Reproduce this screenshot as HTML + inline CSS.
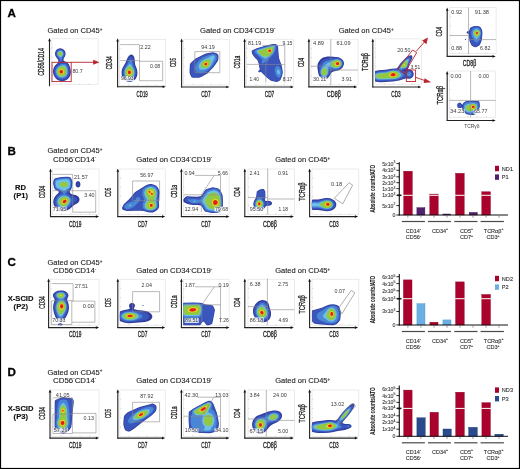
<!DOCTYPE html>
<html><head><meta charset="utf-8"><style>
html,body{margin:0;padding:0;background:#fff;}
body{width:520px;height:469px;overflow:hidden;font-family:"Liberation Sans", sans-serif;}
svg{display:block;will-change:transform;}
</style></head><body>
<svg width="520" height="469" viewBox="0 0 520 469" font-family='"Liberation Sans", sans-serif'>
<rect x="0.5" y="0.5" width="519" height="468" fill="none" stroke="#000" stroke-width="1.2"/>
<text x="7.4" y="16.5" font-size="11.60" text-anchor="start" fill="#000" font-weight="bold" stroke="#000" stroke-width="0.3">A</text>
<text x="7.4" y="155.0" font-size="11.60" text-anchor="start" fill="#000" font-weight="bold" stroke="#000" stroke-width="0.3">B</text>
<text x="7.4" y="265.8" font-size="11.60" text-anchor="start" fill="#000" font-weight="bold" stroke="#000" stroke-width="0.3">C</text>
<text x="7.4" y="375.9" font-size="11.60" text-anchor="start" fill="#000" font-weight="bold" stroke="#000" stroke-width="0.3">D</text>
<text x="47.4" y="33.1" font-size="8.00" text-anchor="start" fill="#222" textLength="55.0" lengthAdjust="spacingAndGlyphs" stroke="#222" stroke-width="0.12">Gated on CD45<tspan font-size="4.8" dy="-2.3">+</tspan></text>
<text x="200.0" y="33.1" font-size="8.00" text-anchor="start" fill="#222" textLength="75.5" lengthAdjust="spacingAndGlyphs" stroke="#222" stroke-width="0.12">Gated on CD34<tspan font-size="4.5" dy="-2.6">-</tspan><tspan dy="2.6">CD19</tspan><tspan font-size="4.5" dy="-2.6">-</tspan></text>
<text x="338.7" y="33.1" font-size="8.00" text-anchor="start" fill="#222" textLength="55.0" lengthAdjust="spacingAndGlyphs" stroke="#222" stroke-width="0.12">Gated on CD45<tspan font-size="4.8" dy="-2.3">+</tspan></text>
<rect x="51.8" y="38.8" width="46.3" height="45.7" fill="none" stroke="#dedede" stroke-width="0.6"/>
<path d="M51.8 75.4h1.2M61.1 84.5v-1.2M51.8 66.2h1.2M70.3 84.5v-1.2M51.8 57.1h1.2M79.6 84.5v-1.2M51.8 47.9h1.2M88.8 84.5v-1.2" stroke="#bbb" stroke-width="0.5" fill="none"/>
<path d="M49.5 86.2V40.5" stroke="#222" stroke-width="1.1" fill="none"/>
<path d="M48.2 41.2L49.5 38.0L50.8 41.2Z" fill="#111"/>
<path fill="#2f3c9c" fill-rule="evenodd" d="M63.0 81.1 61.3 81.1 59.5 80.7 57.8 79.9 56.3 78.9 54.9 77.3 54.0 75.8 53.4 74.3 53.0 72.3 53.1 69.8 53.9 67.3 55.3 65.3 57.8 63.0 58.4 61.8 58.3 60.5 58.0 59.5 56.0 57.0 55.3 55.5 55.0 54.0 55.2 52.3 55.8 50.8 56.9 49.5 58.3 48.7 59.8 48.3 61.3 48.4 62.8 48.9 64.1 49.9 65.0 51.3 65.5 53.0 65.5 54.8 65.0 56.3 63.6 58.8 63.5 60.4 64.1 61.1 67.1 62.4 68.7 64.1 69.9 66.8 70.8 70.8 70.8 72.8 70.5 74.6 69.9 76.3 68.9 77.8 67.8 79.1 66.3 80.1 64.8 80.7Z"/>
<path fill="#3a56bd" fill-rule="evenodd" d="M63.0 79.9 61.3 79.9 59.8 79.6 58.3 78.9 57.0 78.1 55.8 76.8 55.0 75.6 54.4 74.1 54.1 72.6 54.2 70.1 54.9 67.8 56.3 65.8 58.8 63.7 59.2 62.5 59.0 60.5 58.6 59.0 56.8 56.8 56.0 55.3 55.7 54.0 55.9 52.5 56.4 51.3 57.3 50.2 58.5 49.4 59.8 49.1 61.3 49.2 62.5 49.7 63.6 50.5 64.4 51.8 64.8 53.3 64.8 54.8 64.3 56.0 62.9 58.5 62.7 59.8 62.8 61.4 63.3 62.1 66.1 63.0 67.6 64.3 68.2 65.3 68.8 66.8 69.7 70.8 69.8 72.6 69.5 74.1 69.0 75.6 68.3 76.8 67.3 77.9 66.1 78.9 64.6 79.6Z"/>
<path fill="#4a86d6" fill-rule="evenodd" d="M60.8 61.0 60.3 60.3 59.6 58.3 57.3 55.8 56.8 54.0 57.0 52.5 57.7 51.3 58.8 50.4 60.0 50.1 61.5 50.3 62.7 51.0 63.4 52.0 63.8 53.5 63.6 55.3 61.9 58.0 61.3 60.4 61.0 60.9ZM62.3 78.5 60.8 78.4 59.5 78.0 58.3 77.3 57.2 76.3 56.3 75.1 55.8 73.8 55.4 72.3 55.4 70.8 55.7 69.6 56.2 68.3 57.0 67.2 58.0 66.2 61.3 64.0 63.8 63.9 64.8 64.1 65.7 64.6 67.0 66.1 67.6 67.6 68.1 69.6 68.3 72.6 67.8 74.8 66.4 76.8 64.6 78.0Z"/>
<path fill="#6cc0ea" fill-rule="evenodd" d="M60.8 57.2 59.8 57.0 58.5 56.1 57.8 55.0 57.6 54.0 57.7 53.0 58.1 52.0 59.0 51.3 60.0 51.0 61.0 51.1 62.0 51.6 62.8 52.5 63.0 53.5 63.0 54.5 62.5 55.5 61.5 56.7ZM61.0 77.3 59.8 77.0 58.8 76.4 57.3 74.8 56.8 73.8 56.4 72.6 56.5 70.3 57.4 68.3 59.3 66.6 61.8 65.4 63.0 65.2 64.1 65.3 65.5 66.1 66.5 67.8 67.3 70.8 67.1 73.3 66.3 75.2 64.8 76.6 63.0 77.3Z"/>
<path fill="#93c842" fill-rule="evenodd" d="M60.8 56.2 60.0 56.2 59.3 55.8 58.5 55.1 58.2 54.3 58.2 53.3 58.5 52.6 59.0 52.0 59.8 51.7 60.5 51.6 61.3 51.9 62.0 52.5 62.4 53.3 62.4 54.3 62.1 55.0 61.5 55.8ZM61.0 76.6 59.0 75.8 57.7 74.3 57.0 72.3 57.1 70.3 58.0 68.6 59.5 67.3 61.8 66.3 62.8 66.2 63.8 66.3 65.1 67.1 66.0 68.8 66.6 71.3 66.4 73.3 65.6 74.9 64.3 76.0 62.8 76.6Z"/>
<path fill="#f0e01e" fill-rule="evenodd" d="M61.8 74.4 60.8 74.3 59.8 73.9 59.1 73.1 58.8 72.1 58.8 71.1 59.4 70.1 60.3 69.3 61.3 69.1 62.3 69.2 63.0 69.6 63.8 70.5 64.0 71.6 63.9 72.6 63.5 73.3 62.8 74.0Z"/>
<path fill="#f4a81c" fill-rule="evenodd" d="M61.5 73.9 60.5 73.8 59.8 73.3 59.3 72.6 59.2 71.8 59.3 71.0 59.8 70.2 60.5 69.7 61.3 69.6 62.0 69.7 62.8 70.1 63.3 70.8 63.5 71.6 63.4 72.3 63.0 73.1 62.3 73.7Z"/>
<path fill="#e2201b" fill-rule="evenodd" d="M62.0 73.3 60.8 73.4 60.1 73.1 59.7 72.6 59.6 71.3 60.0 70.6 60.5 70.2 61.8 70.1 62.5 70.5 62.9 71.1 62.9 72.3 62.5 73.0Z"/>
<rect x="52.0" y="62.3" width="19.2" height="19.3" fill="none" stroke="#b8242f" stroke-width="0.9"/>
<path d="M71.2 62.3H94" stroke="#b8242f" stroke-width="0.9"/>
<path d="M93.2 59.8L99.4 62.3L93.2 64.8Z" fill="#b8242f"/>
<rect x="72.0" y="68.9" width="11.1" height="4.9" fill="#fff" fill-opacity="0.82"/>
<text x="72.4" y="73.0" font-size="5.30" text-anchor="start" fill="#3a3a3a" textLength="10.3" lengthAdjust="spacingAndGlyphs">80.7</text>
<text transform="translate(44.4 61.9) rotate(-90)" x="0" y="0" font-size="8.40" text-anchor="middle" fill="#222" textLength="27.7" lengthAdjust="spacingAndGlyphs" stroke="#222" stroke-width="0.3">CD56/CD14</text>
<rect x="119.4" y="39.3" width="46.3" height="46.2" fill="none" stroke="#dedede" stroke-width="0.6"/>
<path d="M119.4 76.3h1.2M128.7 85.5v-1.2M119.4 67.0h1.2M137.9 85.5v-1.2M119.4 57.8h1.2M147.2 85.5v-1.2M119.4 48.5h1.2M156.4 85.5v-1.2" stroke="#bbb" stroke-width="0.5" fill="none"/>
<path d="M117.6 87.2V40.7" stroke="#222" stroke-width="1.1" fill="none"/>
<path d="M116.3 41.4L117.6 38.2L118.9 41.4Z" fill="#111"/>
<path d="M117.1 86.8H163.3" stroke="#222" stroke-width="1.1" fill="none"/>
<path d="M162.6 85.5L165.8 86.8L162.6 88.1Z" fill="#111"/>
<path fill="#2f3c9c" fill-rule="evenodd" d="M128.9 81.8 127.2 81.5 125.7 80.8 124.2 79.8 123.2 78.6 122.3 77.1 121.8 75.3 121.6 73.6 121.6 71.6 122.0 69.6 122.5 68.1 125.4 63.1 127.0 59.0 127.9 57.3 128.6 56.2 129.6 55.2 130.6 54.7 131.6 54.6 132.4 54.8 133.1 55.4 133.8 56.3 134.3 57.5 134.7 59.5 135.1 64.6 136.8 68.8 137.2 70.6 137.4 72.6 137.4 74.3 137.0 76.1 136.4 77.6 135.7 78.8 134.6 79.9 133.4 80.8 131.9 81.5 130.4 81.8Z"/>
<path fill="#3a56bd" fill-rule="evenodd" d="M128.9 80.8 127.4 80.4 126.2 79.9 124.9 79.0 123.9 77.8 123.3 76.6 122.8 75.1 122.5 73.3 122.6 71.6 122.9 69.8 123.5 68.3 126.1 63.8 128.3 58.8 129.1 57.6 129.9 56.9 130.6 56.5 131.4 56.5 132.1 56.8 132.6 57.3 133.5 59.0 134.1 64.6 136.1 70.1 136.4 72.1 136.4 73.8 136.1 75.6 135.6 76.8 134.9 78.1 134.0 79.1 132.9 79.9 131.6 80.4 130.4 80.7Z"/>
<path fill="#4a86d6" fill-rule="evenodd" d="M129.1 79.3 127.9 79.1 126.9 78.7 125.9 78.0 125.1 77.1 124.5 76.1 124.0 74.6 123.8 71.8 124.1 70.3 124.8 68.6 127.3 64.6 129.1 61.0 129.9 60.0 130.9 59.7 131.5 60.0 132.0 61.0 132.8 65.3 134.9 70.3 135.2 71.8 135.2 73.3 134.6 75.8 133.2 77.8 131.4 79.0 130.4 79.3Z"/>
<path fill="#6cc0ea" fill-rule="evenodd" d="M129.1 78.3 127.4 77.7 125.8 76.3 124.9 74.3 124.7 72.1 125.1 70.1 126.1 68.1 128.9 64.8 129.6 64.1 130.1 64.0 130.9 64.6 133.6 69.3 134.1 71.1 134.3 73.1 133.7 75.3 132.6 76.9 131.1 77.9 130.1 78.2Z"/>
<path fill="#93c842" fill-rule="evenodd" d="M129.4 77.5 127.9 77.2 126.4 76.0 125.5 74.3 125.2 72.3 125.6 70.3 126.7 68.4 128.4 66.7 129.1 66.2 129.9 66.1 131.1 66.9 132.7 69.1 133.5 71.1 133.7 72.8 133.3 74.6 132.4 76.1 131.1 77.1Z"/>
<path fill="#f0e01e" fill-rule="evenodd" d="M129.6 75.1 128.6 75.0 127.9 74.5 127.2 73.6 127.0 72.6 127.2 71.6 127.7 70.6 128.4 69.9 129.4 69.6 130.1 69.7 130.9 70.3 131.5 71.3 131.7 72.3 131.6 73.3 131.1 74.3 130.4 74.9Z"/>
<path fill="#f4a81c" fill-rule="evenodd" d="M129.4 74.6 128.6 74.5 128.1 74.1 127.6 73.3 127.5 72.6 127.6 71.6 128.1 70.8 128.6 70.4 129.4 70.2 130.1 70.4 130.7 70.8 131.1 71.6 131.3 72.6 131.1 73.3 130.7 74.1 130.1 74.5Z"/>
<path fill="#e2201b" fill-rule="evenodd" d="M129.4 74.2 128.4 73.8 128.0 73.3 127.8 72.6 128.2 71.3 128.6 70.8 129.4 70.6 130.0 70.8 130.6 71.3 130.9 72.6 130.7 73.3 130.4 73.8Z"/>
<path d="M120.2 44.6H139.5V80.7M120.2 60.6H139.5M139.5 61.3H162.7V80.7H139.5" stroke="#8a8a8a" stroke-width="0.60" fill="none"/>
<text x="140.3" y="48.7" font-size="5.30" text-anchor="start" fill="#3a3a3a" textLength="10.4" lengthAdjust="spacingAndGlyphs">2.22</text>
<text x="150.0" y="67.6" font-size="5.30" text-anchor="start" fill="#3a3a3a" textLength="10.3" lengthAdjust="spacingAndGlyphs">0.08</text>
<rect x="120.5" y="76.1" width="13.5" height="4.9" fill="#fff" fill-opacity="0.82"/>
<text x="120.9" y="80.2" font-size="5.30" text-anchor="start" fill="#3a3a3a" textLength="12.7" lengthAdjust="spacingAndGlyphs">96.93</text>
<text transform="translate(112.3 62.7) rotate(-90)" x="0" y="0" font-size="8.40" text-anchor="middle" fill="#222" textLength="13.5" lengthAdjust="spacingAndGlyphs" stroke="#222" stroke-width="0.3">CD34</text>
<text x="142.2" y="96.5" font-size="8.40" text-anchor="middle" fill="#222" textLength="11.2" lengthAdjust="spacingAndGlyphs" stroke="#222" stroke-width="0.3">CD19</text>
<rect x="183.7" y="39.2" width="45.8" height="45.8" fill="none" stroke="#dedede" stroke-width="0.6"/>
<path d="M183.7 75.8h1.2M192.9 85.0v-1.2M183.7 66.7h1.2M202.0 85.0v-1.2M183.7 57.5h1.2M211.2 85.0v-1.2M183.7 48.4h1.2M220.3 85.0v-1.2" stroke="#bbb" stroke-width="0.5" fill="none"/>
<path d="M181.6 87.4V41.0" stroke="#222" stroke-width="1.1" fill="none"/>
<path d="M180.3 41.7L181.6 38.5L182.9 41.7Z" fill="#111"/>
<path d="M181.1 87.0H227.0" stroke="#222" stroke-width="1.1" fill="none"/>
<path d="M226.3 85.7L229.5 87.0L226.3 88.3Z" fill="#111"/>
<path fill="#2f3c9c" fill-rule="evenodd" d="M191.4 77.0 190.4 74.9 189.6 72.7 189.6 69.7 189.9 64.7 190.2 63.7 190.7 63.0 193.9 60.0 195.7 58.5 203.7 54.4 205.9 53.6 211.2 52.5 212.9 52.3 215.7 53.0 216.9 53.6 217.7 54.3 218.3 55.5 218.5 57.0 218.3 59.5 217.8 61.0 215.8 64.0 213.6 66.9 207.6 73.2 202.2 76.6 199.9 77.6 198.4 77.8 193.2 77.8 192.2 77.6Z"/>
<path fill="#3a56bd" fill-rule="evenodd" d="M191.9 76.5 190.9 74.4 190.3 72.4 190.3 69.7 190.6 64.9 190.8 64.2 191.2 63.5 194.4 60.4 197.2 58.4 203.7 55.1 205.9 54.2 211.4 53.1 212.9 52.9 215.4 53.6 217.2 54.7 217.7 55.7 217.8 57.2 217.6 59.5 217.2 60.7 213.2 66.4 207.2 72.7 201.9 76.0 199.7 77.0 193.4 77.1 192.7 76.9Z"/>
<path fill="#4a86d6" fill-rule="evenodd" d="M195.9 71.0 195.3 69.9 195.0 68.4 195.1 66.9 195.6 65.4 196.4 63.7 197.6 62.0 199.0 60.5 200.7 59.0 202.7 57.7 205.1 56.5 211.7 54.2 212.9 54.0 214.2 54.2 215.4 54.7 216.3 55.5 216.7 56.5 216.6 57.7 216.4 59.2 215.7 60.6 213.6 64.0 212.0 66.2 209.9 68.4 207.7 70.3 206.2 71.3 204.7 72.0 202.9 72.6 201.2 72.8 199.7 72.8 198.2 72.5 196.9 71.9Z"/>
<path fill="#6cc0ea" fill-rule="evenodd" d="M199.3 68.7 198.8 67.9 198.6 67.2 198.9 65.2 200.0 63.0 202.1 60.7 204.2 59.4 208.7 57.6 211.9 55.8 213.4 55.6 214.4 56.2 214.7 57.2 214.4 58.5 213.1 60.7 211.3 64.7 210.2 66.2 208.9 67.4 206.4 68.9 203.2 69.8 200.9 69.7 199.9 69.3Z"/>
<path fill="#93c842" fill-rule="evenodd" d="M200.9 67.3 200.5 65.9 200.8 64.4 201.7 62.7 203.0 61.2 204.4 60.3 206.4 59.7 209.4 59.5 210.4 59.9 210.7 61.5 210.4 64.0 209.7 65.4 208.4 66.8 206.7 67.8 204.2 68.3 202.2 68.1Z"/>
<path fill="#f0e01e" fill-rule="evenodd" d="M206.4 66.0 205.4 66.1 204.7 65.9 204.1 65.4 203.7 64.7 203.6 64.0 203.9 63.2 204.4 62.6 205.2 62.2 206.2 62.1 206.9 62.2 207.6 62.7 208.0 63.5 208.0 64.2 207.8 64.9 207.2 65.6Z"/>
<path fill="#f4a81c" fill-rule="evenodd" d="M205.2 65.6 204.5 65.2 204.2 64.7 204.1 64.2 204.2 63.5 204.7 62.9 205.4 62.5 206.2 62.4 206.9 62.7 207.4 63.2 207.6 63.7 207.4 64.7 206.4 65.6Z"/>
<path fill="#e2201b" fill-rule="evenodd" d="M206.7 65.1 205.7 65.4 204.7 64.9 204.4 64.0 204.8 63.2 205.9 62.7 206.9 63.1 207.3 63.7 207.3 64.2Z"/>
<path d="M194.8 51.6H219.8V72.7H194.8Z" stroke="#8a8a8a" stroke-width="0.60" fill="none"/>
<text x="201.3" y="48.9" font-size="5.30" text-anchor="start" fill="#3a3a3a" textLength="13.4" lengthAdjust="spacingAndGlyphs">94.19</text>
<text transform="translate(175.6 62.4) rotate(-90)" x="0" y="0" font-size="8.40" text-anchor="middle" fill="#222" textLength="9.0" lengthAdjust="spacingAndGlyphs" stroke="#222" stroke-width="0.3">CD5</text>
<text x="205.9" y="96.7" font-size="8.40" text-anchor="middle" fill="#222" textLength="9.5" lengthAdjust="spacingAndGlyphs" stroke="#222" stroke-width="0.3">CD7</text>
<rect x="246.6" y="39.2" width="46.9" height="46.0" fill="none" stroke="#dedede" stroke-width="0.6"/>
<path d="M246.6 76.0h1.2M256.0 85.2v-1.2M246.6 66.8h1.2M265.4 85.2v-1.2M246.6 57.6h1.2M274.7 85.2v-1.2M246.6 48.4h1.2M284.1 85.2v-1.2" stroke="#bbb" stroke-width="0.5" fill="none"/>
<path d="M244.6 87.4V41.0" stroke="#222" stroke-width="1.1" fill="none"/>
<path d="M243.3 41.7L244.6 38.5L245.9 41.7Z" fill="#111"/>
<path d="M244.1 87.0H291.3" stroke="#222" stroke-width="1.1" fill="none"/>
<path d="M290.6 85.7L293.8 87.0L290.6 88.3Z" fill="#111"/>
<path fill="#2f3c9c" fill-rule="evenodd" d="M279.9 80.4 278.1 81.6 276.6 82.0 271.1 80.7 269.6 79.8 265.9 76.7 261.1 71.9 260.6 71.8 259.9 72.3 259.4 72.4 258.6 72.0 258.3 71.4 258.4 70.9 258.7 70.4 259.6 69.9 259.7 69.4 258.9 64.6 258.1 61.8 257.3 60.0 254.5 57.2 252.2 54.0 251.7 51.7 251.8 51.0 252.1 50.4 252.9 49.9 256.9 48.3 264.6 46.1 272.9 44.1 274.4 43.9 275.4 44.0 276.1 44.3 277.2 45.2 277.9 46.2 278.1 47.2 278.7 55.2 279.0 58.2 281.8 65.7 282.7 71.4 282.7 72.9 282.0 76.2 280.7 79.4Z"/>
<path fill="#3a56bd" fill-rule="evenodd" d="M279.6 80.1 277.9 81.1 276.6 81.5 271.1 80.1 269.9 79.3 266.2 76.2 260.6 70.7 259.2 63.7 258.2 60.5 257.4 59.2 254.9 56.9 252.8 54.0 252.4 53.0 252.2 51.7 252.3 51.2 252.6 50.7 255.4 49.3 257.4 48.6 264.4 46.6 272.6 44.6 275.1 44.4 275.9 44.7 276.8 45.5 277.3 46.2 277.6 47.2 278.5 58.2 281.2 65.7 282.3 71.4 282.2 73.2 281.5 75.9 280.2 79.2ZM259.1 71.9 258.7 71.4 258.9 70.9 259.4 70.6 260.2 70.7 260.3 71.2 260.0 71.7 259.6 72.0Z"/>
<path fill="#4a86d6" fill-rule="evenodd" d="M262.4 63.2 262.1 63.0 261.8 62.2 262.1 59.7 261.9 59.0 255.4 53.0 254.7 51.7 254.7 51.2 255.0 50.7 255.8 50.0 257.1 49.4 265.6 46.9 273.1 45.2 274.6 45.1 275.5 45.5 276.1 46.5 276.0 48.0 274.7 51.7 272.8 55.0 271.6 56.3 269.1 58.2 266.6 61.1 265.4 62.3 263.6 63.3 262.9 63.4ZM279.1 77.8 278.6 77.7 277.9 77.3 276.6 75.9 275.5 73.9 275.0 71.9 274.8 69.9 275.2 67.9 275.9 66.7 277.1 66.1 277.9 66.1 278.6 66.3 279.9 67.4 280.8 69.2 281.4 71.3 281.4 72.9 280.9 75.2 280.1 76.9 279.6 77.5Z"/>
<path fill="#6cc0ea" fill-rule="evenodd" d="M256.6 51.7 256.5 51.2 256.7 50.7 257.7 50.0 268.0 47.0 273.1 45.9 274.1 46.1 274.5 46.7 273.9 50.7 272.8 53.0 270.6 55.3 265.9 58.5 264.9 58.4 261.6 56.6 257.7 53.2ZM279.1 74.5 278.6 74.4 277.9 73.9 277.1 72.4 277.0 71.4 277.1 70.4 277.4 69.9 277.9 69.5 278.4 69.5 279.1 70.1 279.9 71.7 279.9 73.4 279.6 74.2Z"/>
<path fill="#93c842" fill-rule="evenodd" d="M258.0 51.7 258.2 51.0 259.1 50.5 264.6 48.8 268.6 47.4 272.1 46.8 273.0 47.0 273.4 47.5 273.5 50.2 273.2 51.2 272.5 52.5 271.6 53.5 270.1 54.8 267.9 56.2 266.4 56.8 264.6 56.7 262.4 55.9 258.9 53.0Z"/>
<path fill="#f0e01e" fill-rule="evenodd" d="M268.1 52.4 267.6 52.0 267.3 51.2 267.4 50.5 268.0 49.7 268.9 49.1 269.9 48.9 270.9 49.1 271.5 49.5 271.8 50.0 271.8 50.7 271.6 51.5 271.1 52.0 270.4 52.5 269.6 52.8 268.9 52.7Z"/>
<path fill="#f4a81c" fill-rule="evenodd" d="M269.4 52.4 268.6 52.2 268.0 51.7 267.8 51.2 267.9 50.5 268.4 49.9 269.1 49.4 269.9 49.3 270.7 49.5 271.4 50.2 271.3 51.2 270.6 52.0Z"/>
<path fill="#e2201b" fill-rule="evenodd" d="M270.4 51.8 269.4 52.1 268.5 51.7 268.2 51.0 268.5 50.2 269.6 49.6 270.4 49.6 270.9 49.9 271.1 50.5 271.1 51.0Z"/>
<path d="M246.8 64.4H284.8M265.8 64.4V82.5M265.8 64.4L275.2 45.4M262.6 45.4H284.8V82.5" stroke="#8a8a8a" stroke-width="0.60" fill="none"/>
<text x="248.0" y="45.4" font-size="5.30" text-anchor="start" fill="#3a3a3a" textLength="13.2" lengthAdjust="spacingAndGlyphs">81.19</text>
<text x="282.4" y="45.4" font-size="5.30" text-anchor="start" fill="#3a3a3a" textLength="10.0" lengthAdjust="spacingAndGlyphs">9.15</text>
<text x="249.4" y="80.8" font-size="5.30" text-anchor="start" fill="#3a3a3a" textLength="9.6" lengthAdjust="spacingAndGlyphs">1.40</text>
<text x="282.7" y="80.8" font-size="5.30" text-anchor="start" fill="#3a3a3a" textLength="9.7" lengthAdjust="spacingAndGlyphs">8.17</text>
<text transform="translate(240.4 62.0) rotate(-90)" x="0" y="0" font-size="8.40" text-anchor="middle" fill="#222" textLength="12.8" lengthAdjust="spacingAndGlyphs" stroke="#222" stroke-width="0.3">CD1a</text>
<text x="269.5" y="96.7" font-size="8.40" text-anchor="middle" fill="#222" textLength="9.5" lengthAdjust="spacingAndGlyphs" stroke="#222" stroke-width="0.3">CD7</text>
<rect x="311.0" y="39.2" width="47.0" height="45.8" fill="none" stroke="#dedede" stroke-width="0.6"/>
<path d="M311.0 75.8h1.2M320.4 85.0v-1.2M311.0 66.7h1.2M329.8 85.0v-1.2M311.0 57.5h1.2M339.2 85.0v-1.2M311.0 48.4h1.2M348.6 85.0v-1.2" stroke="#bbb" stroke-width="0.5" fill="none"/>
<path d="M308.9 87.3V41.0" stroke="#222" stroke-width="1.1" fill="none"/>
<path d="M307.6 41.7L308.9 38.5L310.2 41.7Z" fill="#111"/>
<path d="M308.4 86.9H354.7" stroke="#222" stroke-width="1.1" fill="none"/>
<path d="M354.0 85.6L357.2 86.9L354.0 88.2Z" fill="#111"/>
<path fill="#2f3c9c" fill-rule="evenodd" d="M320.1 77.2 319.1 75.7 318.3 73.4 317.5 68.2 317.4 65.9 317.7 64.0 318.5 62.0 319.8 60.2 321.2 58.8 323.2 57.6 325.2 56.9 327.5 56.5 330.2 56.5 336.0 56.9 338.5 57.3 341.0 58.4 342.7 60.0 343.4 61.0 343.8 62.2 344.0 63.5 343.8 64.7 342.9 66.9 342.1 67.9 341.0 69.0 339.8 69.8 338.0 70.6 333.5 71.6 332.1 72.2 331.2 73.0 328.8 77.0 327.5 78.2 326.2 78.9 324.5 79.2 323.0 79.0 321.5 78.4Z"/>
<path fill="#3a56bd" fill-rule="evenodd" d="M320.6 76.4 319.6 74.7 319.0 72.7 318.9 70.2 319.2 66.2 319.6 64.2 320.3 62.7 321.3 61.5 322.6 60.2 324.5 59.1 327.0 58.3 336.0 57.8 338.0 58.0 339.8 58.6 341.0 59.3 342.1 60.5 343.1 62.5 343.1 64.4 342.7 65.7 342.2 66.7 340.5 68.4 339.0 69.3 337.5 69.8 335.8 70.1 332.5 70.4 331.2 70.8 330.4 71.7 329.2 74.7 328.3 76.2 327.2 77.3 326.0 78.0 324.5 78.3 323.0 78.1 321.8 77.5Z"/>
<path fill="#4a86d6" fill-rule="evenodd" d="M321.2 75.6 320.6 74.4 320.1 72.9 320.1 71.4 320.3 69.7 322.4 64.4 323.2 63.2 324.5 62.0 325.8 61.2 327.2 60.7 336.0 58.9 337.8 59.0 339.2 59.4 340.5 60.1 341.4 61.0 342.2 62.7 342.1 64.4 341.4 66.2 340.0 67.6 338.5 68.4 336.5 68.9 334.8 69.0 331.2 68.5 330.0 68.8 329.5 69.3 329.2 69.9 328.6 72.9 328.0 74.7 327.0 76.0 325.8 76.9 324.5 77.2 323.2 77.0 322.2 76.5Z"/>
<path fill="#6cc0ea" fill-rule="evenodd" d="M321.8 74.9 321.1 73.7 320.9 72.4 320.9 71.2 321.4 69.7 322.5 67.9 326.5 63.7 333.2 60.5 335.8 59.7 337.2 59.6 338.8 59.9 340.0 60.5 341.0 61.5 341.5 62.7 341.6 64.2 340.9 65.7 339.8 66.9 337.8 67.9 335.5 68.2 333.5 67.8 330.0 66.6 328.6 66.7 328.0 67.2 327.7 67.7 327.8 72.4 327.4 73.9 326.8 75.1 325.5 76.0 324.2 76.3 323.0 76.0Z"/>
<path fill="#93c842" fill-rule="evenodd" d="M341.2 64.0 340.6 65.4 339.5 66.6 338.0 67.3 336.2 67.6 334.5 67.5 332.7 66.7 331.3 65.4 330.8 64.2 331.3 63.0 332.9 61.5 334.8 60.5 337.0 60.1 338.8 60.3 340.2 61.2 341.0 62.5ZM324.0 75.6 322.9 75.2 322.0 74.2 321.5 72.9 321.5 71.4 321.9 70.2 322.8 68.9 324.0 68.1 325.0 67.9 326.0 68.4 326.7 69.4 327.2 70.9 327.2 72.4 326.8 73.9 326.0 74.9 325.0 75.5Z"/>
<path fill="#f0e01e" fill-rule="evenodd" d="M338.8 65.4 337.2 65.9 336.2 65.8 335.5 65.5 334.8 64.9 334.6 64.4 334.5 64.0 334.7 63.2 335.5 62.3 336.5 61.7 337.8 61.5 338.8 61.8 339.5 62.5 339.9 63.5 339.6 64.4Z"/>
<path fill="#f4a81c" fill-rule="evenodd" d="M339.2 64.4 338.2 65.2 336.8 65.4 336.0 65.1 335.5 64.7 335.2 63.7 335.5 63.0 336.2 62.3 337.0 62.0 338.0 61.9 338.8 62.2 339.4 63.0 339.5 63.7Z"/>
<path fill="#e2201b" fill-rule="evenodd" d="M338.2 64.9 337.0 65.1 336.0 64.5 335.8 63.7 336.3 62.7 337.0 62.3 337.8 62.2 338.5 62.4 338.9 62.7 339.1 63.2 339.1 64.0 338.8 64.4Z"/>
<path d="M330.8 39.2V85M311 66.2H330.8M330.8 70H358" stroke="#8a8a8a" stroke-width="0.60" fill="none"/>
<text x="313.0" y="44.7" font-size="5.30" text-anchor="start" fill="#3a3a3a" textLength="11.0" lengthAdjust="spacingAndGlyphs">4.89</text>
<text x="336.6" y="44.7" font-size="5.30" text-anchor="start" fill="#3a3a3a" textLength="13.9" lengthAdjust="spacingAndGlyphs">61.09</text>
<rect x="312.6" y="76.7" width="14.0" height="4.9" fill="#fff" fill-opacity="0.82"/>
<text x="313.0" y="80.8" font-size="5.30" text-anchor="start" fill="#3a3a3a" textLength="13.2" lengthAdjust="spacingAndGlyphs">30.11</text>
<text x="341.5" y="80.8" font-size="5.30" text-anchor="start" fill="#3a3a3a" textLength="10.4" lengthAdjust="spacingAndGlyphs">3.91</text>
<text transform="translate(304.0 62.4) rotate(-90)" x="0" y="0" font-size="8.40" text-anchor="middle" fill="#222" textLength="9.0" lengthAdjust="spacingAndGlyphs" stroke="#222" stroke-width="0.3">CD4</text>
<text x="333.8" y="97.0" font-size="8.40" text-anchor="middle" fill="#222" textLength="13.9" lengthAdjust="spacingAndGlyphs" stroke="#222" stroke-width="0.3">CD8&#946;</text>
<rect x="375.1" y="38.9" width="46.2" height="45.3" fill="none" stroke="#dedede" stroke-width="0.6"/>
<path d="M375.1 75.1h1.2M384.3 84.2v-1.2M375.1 66.1h1.2M393.6 84.2v-1.2M375.1 57.0h1.2M402.8 84.2v-1.2M375.1 48.0h1.2M412.1 84.2v-1.2" stroke="#bbb" stroke-width="0.5" fill="none"/>
<path d="M372.8 87.4V41.0" stroke="#222" stroke-width="1.1" fill="none"/>
<path d="M371.5 41.7L372.8 38.5L374.1 41.7Z" fill="#111"/>
<path d="M372.3 87.0H418.8" stroke="#222" stroke-width="1.1" fill="none"/>
<path d="M418.1 85.7L421.3 87.0L418.1 88.3Z" fill="#111"/>
<path fill="#2f3c9c" fill-rule="evenodd" d="M375.1 81.5 374.9 76.2 375.1 70.9 378.6 70.2 385.6 69.7 391.6 68.7 395.6 68.6 396.6 68.4 397.6 67.5 400.0 63.9 401.4 62.2 405.6 58.1 407.9 56.5 409.6 55.6 411.1 55.3 412.1 55.7 412.4 56.7 412.2 58.2 411.3 60.4 409.2 63.9 408.7 66.7 408.0 68.9 408.4 69.2 410.1 69.5 411.4 69.9 412.5 70.9 413.3 72.2 413.7 73.7 413.5 75.4 412.7 76.9 411.6 78.0 410.6 78.5 409.6 78.7 405.6 78.6 399.1 80.5 393.1 81.5 380.9 82.2 377.9 82.0Z"/>
<path fill="#3a56bd" fill-rule="evenodd" d="M375.1 80.5 374.9 76.2 375.1 71.9 378.4 71.1 386.1 70.5 391.9 69.3 395.9 69.3 396.9 69.1 397.9 68.4 400.2 64.4 401.5 62.7 404.9 59.4 406.9 57.8 408.9 56.8 410.4 56.5 411.1 56.9 411.3 57.9 411.1 59.2 410.4 60.7 408.8 63.7 408.2 66.4 407.7 67.7 407.1 68.4 406.4 68.9 403.4 69.9 403.0 70.7 403.6 71.3 404.9 71.6 405.9 71.5 407.9 70.5 408.9 70.3 410.1 70.4 411.4 71.0 412.4 72.4 412.8 74.2 412.3 75.9 411.1 77.2 410.1 77.7 409.1 77.8 406.4 77.4 405.4 77.4 398.6 79.7 395.9 80.4 392.9 80.8 380.6 81.4 377.6 81.1Z"/>
<path fill="#4a86d6" fill-rule="evenodd" d="M375.1 79.1 375.1 73.4 376.6 72.7 378.4 72.3 386.1 71.6 391.9 70.2 393.6 70.0 396.9 70.3 398.1 70.1 398.8 69.4 399.7 66.9 400.7 64.9 402.9 62.1 405.1 60.1 407.1 58.7 408.6 58.1 409.2 58.2 409.6 58.4 409.8 59.2 409.6 60.2 408.1 63.4 407.5 66.2 407.1 67.2 406.4 67.9 405.6 68.3 403.1 68.8 401.8 69.4 400.7 70.2 400.4 70.7 400.4 71.2 400.9 71.8 403.0 73.4 403.8 74.4 403.8 74.9 403.4 75.7 401.6 77.2 399.4 78.2 397.1 79.0 394.9 79.5 392.6 79.8 380.4 80.2 377.4 79.9ZM409.1 76.4 408.1 76.2 407.3 75.7 406.7 74.9 406.5 74.2 406.9 73.2 407.6 72.4 408.6 71.8 409.6 71.7 410.4 72.0 411.1 72.7 411.4 73.4 411.4 74.4 411.2 75.2 410.6 75.9 409.9 76.3Z"/>
<path fill="#6cc0ea" fill-rule="evenodd" d="M400.6 68.2 400.5 67.4 400.8 65.9 401.6 64.4 402.6 63.1 404.1 61.6 406.1 60.1 407.4 59.5 408.4 59.5 408.6 60.2 408.5 60.9 407.5 63.4 406.9 66.2 406.4 67.1 405.6 67.7 404.6 68.0 401.4 68.5ZM375.1 77.4 375.1 75.1 376.1 74.2 377.4 73.5 379.9 73.0 386.4 72.4 390.6 71.1 392.4 70.7 394.9 70.7 398.1 71.4 398.9 71.9 400.8 73.9 401.1 74.7 401.1 75.2 400.7 75.9 398.9 77.4 396.4 78.5 393.6 79.0 379.9 79.3 376.9 78.7 375.9 78.1ZM409.6 74.4 409.0 74.4 408.8 73.9 409.0 73.7 409.6 73.7 409.7 74.2Z"/>
<path fill="#93c842" fill-rule="evenodd" d="M401.4 67.4 401.2 66.7 401.4 65.7 402.0 64.4 403.0 63.2 405.9 60.9 406.9 60.5 407.6 60.6 407.7 61.4 406.7 65.7 406.1 66.8 405.4 67.3 404.1 67.6 402.1 67.7ZM399.8 74.7 399.4 75.9 397.9 77.2 395.6 78.2 393.1 78.6 379.6 78.6 378.1 78.2 377.1 77.8 376.3 77.2 376.0 76.4 376.1 75.7 376.6 75.0 378.4 74.0 380.4 73.6 386.1 73.1 390.9 71.4 392.9 71.0 395.4 71.2 397.5 71.9 399.0 73.2Z"/>
<path fill="#f0e01e" fill-rule="evenodd" d="M403.9 65.7 403.6 65.2 403.8 64.7 404.4 64.2 404.9 64.2 405.1 64.7 404.9 65.4 404.4 65.7ZM396.7 74.7 396.5 75.4 395.8 76.2 394.6 76.8 393.4 77.0 391.9 77.0 390.6 76.7 389.6 76.2 389.1 75.4 389.4 74.4 390.4 73.4 391.6 72.7 392.9 72.4 394.1 72.5 395.4 72.9 396.3 73.7Z"/>
<path fill="#f4a81c" fill-rule="evenodd" d="M396.1 74.7 395.8 75.4 395.3 75.9 394.4 76.4 393.4 76.6 392.1 76.5 391.1 76.2 390.4 75.8 390.0 75.2 390.2 74.4 390.8 73.7 391.9 73.1 393.1 72.8 394.1 72.9 395.1 73.2 395.8 73.9Z"/>
<path fill="#e2201b" fill-rule="evenodd" d="M395.5 74.7 395.4 75.2 394.9 75.7 394.1 76.1 393.1 76.2 391.4 75.9 390.8 75.4 390.7 74.9 391.0 74.2 391.5 73.7 393.1 73.1 394.1 73.2 394.9 73.5 395.4 74.0Z"/>
<path d="M398 69L412.6 50L416.7 52.6L404.2 73.8Z" fill="none" stroke="#b8242f" stroke-width="0.9"/>
<path d="M416 51.5L425.2 41.2" stroke="#b8242f" stroke-width="0.9"/>
<path d="M422.1 40.6L428 37.6L426.4 44.3Z" fill="#b8242f"/>
<rect x="406.3" y="70.0" width="9.3" height="11.5" fill="none" stroke="#b8242f" stroke-width="0.9"/>
<path d="M415.6 77.3L425.5 80.8" stroke="#b8242f" stroke-width="0.9"/>
<path d="M424.6 78.3L431.2 82.3L423.6 83.0Z" fill="#b8242f"/>
<text x="397.3" y="52.3" font-size="5.30" text-anchor="start" fill="#3a3a3a" textLength="13.2" lengthAdjust="spacingAndGlyphs">20.50</text>
<text x="410.5" y="69.0" font-size="5.30" text-anchor="start" fill="#3a3a3a" textLength="9.7" lengthAdjust="spacingAndGlyphs">3.51</text>
<text transform="translate(368.2 62.0) rotate(-90)" x="0" y="0" font-size="8.40" text-anchor="middle" fill="#222" textLength="18.0" lengthAdjust="spacingAndGlyphs" stroke="#222" stroke-width="0.3">TCR&#945;&#946;</text>
<text x="396.0" y="96.7" font-size="8.40" text-anchor="middle" fill="#222" textLength="9.5" lengthAdjust="spacingAndGlyphs" stroke="#222" stroke-width="0.3">CD3</text>
<rect x="449.9" y="7.6" width="46.2" height="46.1" fill="none" stroke="#dedede" stroke-width="0.6"/>
<path d="M449.9 44.5h1.2M459.1 53.7v-1.2M449.9 35.3h1.2M468.4 53.7v-1.2M449.9 26.0h1.2M477.6 53.7v-1.2M449.9 16.8h1.2M486.9 53.7v-1.2" stroke="#bbb" stroke-width="0.5" fill="none"/>
<path d="M447.2 56.8V10.0" stroke="#222" stroke-width="1.1" fill="none"/>
<path d="M445.9 10.7L447.2 7.5L448.5 10.7Z" fill="#111"/>
<path d="M446.7 56.4H493.2" stroke="#222" stroke-width="1.1" fill="none"/>
<path d="M492.5 55.1L495.7 56.4L492.5 57.7Z" fill="#111"/>
<path fill="#2f3c9c" fill-rule="evenodd" d="M475.4 47.3 474.4 47.1 472.6 46.2 471.7 45.6 471.2 44.8 469.5 41.1 468.9 34.3 468.5 33.8 467.1 33.5 466.6 32.6 466.7 32.1 467.1 31.5 467.6 31.3 468.6 31.3 469.1 30.9 469.9 28.4 470.6 27.4 473.6 26.2 475.6 25.9 478.9 26.3 479.9 26.8 480.7 27.6 481.6 28.9 482.0 29.9 482.3 31.4 482.4 33.8 481.9 39.8 480.3 44.1 479.6 45.1 478.9 45.7 476.6 47.0ZM465.4 40.1 465.0 39.8 464.9 39.3 465.1 39.0 465.6 38.9 466.0 39.1 466.1 39.6 465.9 40.0Z"/>
<path fill="#3a56bd" fill-rule="evenodd" d="M475.4 46.7 474.1 46.3 472.1 45.1 471.4 44.1 470.4 41.8 470.0 40.3 469.3 32.6 470.3 28.9 470.9 27.9 473.9 26.7 475.6 26.4 478.6 26.8 479.6 27.3 480.4 28.1 481.6 30.1 481.9 33.8 481.3 39.8 479.7 43.8 479.1 44.7 478.4 45.3 476.4 46.4ZM468.3 32.6 467.9 32.8 467.6 32.6 467.6 32.3 468.1 32.3Z"/>
<path fill="#4a86d6" fill-rule="evenodd" d="M476.6 42.4 475.1 42.0 474.0 40.8 471.8 36.3 471.3 33.8 471.6 31.4 472.5 29.4 473.9 28.1 474.9 27.7 475.9 27.5 478.1 27.8 479.4 28.6 480.6 30.4 481.0 32.8 481.0 34.6 480.6 36.5 479.4 40.1 478.8 41.1 478.1 41.8 477.4 42.2Z"/>
<path fill="#6cc0ea" fill-rule="evenodd" d="M476.4 39.0 475.4 38.3 473.9 36.3 473.2 34.8 473.0 33.3 473.3 31.6 474.0 30.4 475.1 29.4 476.6 29.1 478.1 29.5 479.2 30.4 480.0 31.6 480.3 33.3 480.0 34.8 479.1 36.5 477.4 38.5 476.9 38.9Z"/>
<path fill="#93c842" fill-rule="evenodd" d="M476.4 36.9 475.4 36.5 474.5 35.6 473.9 34.3 473.7 33.1 474.0 31.9 474.6 30.8 475.6 30.1 476.9 29.9 478.1 30.3 479.1 31.1 479.6 32.1 479.8 33.3 479.5 34.6 478.6 35.8 477.4 36.7Z"/>
<path fill="#f0e01e" fill-rule="evenodd" d="M477.4 34.7 476.6 34.7 476.1 34.6 475.6 34.1 475.4 33.6 475.5 32.3 475.8 31.9 476.4 31.5 477.1 31.4 477.6 31.6 478.1 32.0 478.4 32.6 478.3 33.8Z"/>
<path fill="#f4a81c" fill-rule="evenodd" d="M477.1 34.4 476.1 34.2 475.6 33.3 475.8 32.3 476.6 31.7 477.6 31.9 478.2 32.8 478.0 33.8Z"/>
<path fill="#e2201b" fill-rule="evenodd" d="M477.1 34.1 476.4 34.0 475.9 33.3 476.0 32.6 476.6 32.0 477.5 32.1 478.0 32.8 477.8 33.6Z"/>
<path d="M468.5 7.6V53.7M449.9 35.5H468.5M468.5 39.6H496.1" stroke="#8a8a8a" stroke-width="0.60" fill="none"/>
<text x="451.3" y="14.2" font-size="5.30" text-anchor="start" fill="#3a3a3a" textLength="10.7" lengthAdjust="spacingAndGlyphs">0.92</text>
<text x="474.8" y="14.2" font-size="5.30" text-anchor="start" fill="#3a3a3a" textLength="14.2" lengthAdjust="spacingAndGlyphs">91.38</text>
<text x="451.3" y="50.0" font-size="5.30" text-anchor="start" fill="#3a3a3a" textLength="10.7" lengthAdjust="spacingAndGlyphs">0.88</text>
<text x="480.0" y="50.0" font-size="5.30" text-anchor="start" fill="#3a3a3a" textLength="10.4" lengthAdjust="spacingAndGlyphs">6.82</text>
<text transform="translate(442.0 31.7) rotate(-90)" x="0" y="0" font-size="8.40" text-anchor="middle" fill="#222" textLength="9.5" lengthAdjust="spacingAndGlyphs" stroke="#222" stroke-width="0.3">CD4</text>
<text x="469.5" y="66.3" font-size="8.40" text-anchor="middle" fill="#222" textLength="13.5" lengthAdjust="spacingAndGlyphs" stroke="#222" stroke-width="0.3">CD8&#946;</text>
<rect x="449.4" y="71.0" width="46.3" height="46.2" fill="none" stroke="#dedede" stroke-width="0.6"/>
<path d="M449.4 108.0h1.2M458.7 117.2v-1.2M449.4 98.7h1.2M467.9 117.2v-1.2M449.4 89.5h1.2M477.2 117.2v-1.2M449.4 80.2h1.2M486.4 117.2v-1.2" stroke="#bbb" stroke-width="0.5" fill="none"/>
<path d="M447.2 120.9V73.5" stroke="#222" stroke-width="1.1" fill="none"/>
<path d="M445.9 74.2L447.2 71.0L448.5 74.2Z" fill="#111"/>
<path d="M446.7 120.5H493.2" stroke="#222" stroke-width="1.1" fill="none"/>
<path d="M492.5 119.2L495.7 120.5L492.5 121.8Z" fill="#111"/>
<path fill="#2f3c9c" fill-rule="evenodd" d="M479.8 106.5 478.5 110.8 477.6 112.5 474.4 114.7 473.4 115.0 472.4 115.1 467.6 114.5 465.9 113.7 463.9 111.9 462.7 110.5 462.5 109.8 462.1 107.5 460.6 108.0 458.4 107.9 457.7 107.5 457.3 105.5 457.3 104.5 457.5 103.8 457.9 103.4 459.1 102.8 459.9 102.6 460.6 103.0 462.4 104.7 463.0 103.5 463.6 102.8 465.4 101.4 466.4 101.1 473.6 100.8 477.9 100.9 478.9 101.2 479.4 102.0 479.8 105.0Z"/>
<path fill="#3a56bd" fill-rule="evenodd" d="M477.4 112.1 474.6 114.0 473.1 114.6 468.4 114.2 466.6 113.6 464.1 111.5 463.0 110.0 462.8 108.8 462.8 106.8 463.0 104.8 463.4 103.8 465.4 101.9 466.6 101.5 473.9 101.2 477.6 101.3 478.5 101.5 478.9 101.9 479.1 102.5 479.4 106.2 478.2 110.5ZM461.1 107.4 458.9 107.6 458.1 107.2 457.6 105.0 457.7 104.2 458.1 103.8 459.1 103.2 459.9 103.0 460.4 103.3 461.4 104.2 461.7 104.8 461.8 105.5 461.5 107.0Z"/>
<path fill="#4a86d6" fill-rule="evenodd" d="M476.9 111.0 475.6 112.2 473.1 113.6 469.4 113.5 467.9 113.3 466.9 112.9 464.6 111.0 463.6 109.5 463.6 106.8 463.8 105.0 464.1 104.2 465.8 102.8 467.1 102.3 473.6 102.1 477.4 102.6 477.9 103.2 478.4 106.2 478.0 108.2Z"/>
<path fill="#6cc0ea" fill-rule="evenodd" d="M464.9 109.8 464.6 109.0 464.5 108.0 464.8 106.2 465.9 104.9 467.6 104.0 472.1 103.2 474.1 103.3 475.9 104.2 476.5 104.8 477.0 105.8 477.2 107.5 476.8 108.5 476.3 109.2 474.6 110.6 471.6 112.0 469.6 112.3 467.6 112.0 466.1 111.2Z"/>
<path fill="#93c842" fill-rule="evenodd" d="M465.9 109.2 465.6 107.8 466.1 106.5 467.0 105.5 468.4 104.8 471.9 103.9 473.6 103.8 475.4 104.5 476.1 105.2 476.5 106.0 476.6 107.5 475.9 108.9 474.6 109.9 472.6 110.6 470.4 111.2 468.6 111.2 467.0 110.5Z"/>
<path fill="#f0e01e" fill-rule="evenodd" d="M471.3 108.2 470.9 107.8 470.8 107.0 471.1 106.2 471.9 105.5 472.6 105.2 473.6 105.1 474.4 105.4 475.0 106.0 475.2 106.5 475.2 107.2 474.4 108.3 472.9 108.8 472.1 108.7Z"/>
<path fill="#f4a81c" fill-rule="evenodd" d="M473.9 108.2 472.6 108.4 471.6 107.8 471.4 107.0 471.9 106.0 472.6 105.5 473.4 105.4 474.1 105.6 474.6 106.0 474.8 106.5 474.8 107.2 474.6 107.8Z"/>
<path fill="#e2201b" fill-rule="evenodd" d="M474.1 107.8 473.4 108.1 472.4 108.0 471.8 107.2 471.9 106.5 472.3 106.0 472.8 105.8 473.9 105.8 474.4 106.2 474.6 106.8 474.5 107.2Z"/>
<path d="M470.6 71V117.2M449.4 100.4H495.7" stroke="#8a8a8a" stroke-width="0.60" fill="none"/>
<text x="450.4" y="77.7" font-size="5.30" text-anchor="start" fill="#3a3a3a" textLength="10.9" lengthAdjust="spacingAndGlyphs">0.00</text>
<text x="478.5" y="77.7" font-size="5.30" text-anchor="start" fill="#3a3a3a" textLength="10.5" lengthAdjust="spacingAndGlyphs">0.00</text>
<rect x="449.7" y="109.1" width="15.0" height="4.9" fill="#fff" fill-opacity="0.82"/>
<text x="450.1" y="113.2" font-size="5.30" text-anchor="start" fill="#3a3a3a" textLength="14.2" lengthAdjust="spacingAndGlyphs">34.23</text>
<rect x="473.6" y="109.1" width="14.3" height="4.9" fill="#fff" fill-opacity="0.82"/>
<text x="474.0" y="113.2" font-size="5.30" text-anchor="start" fill="#3a3a3a" textLength="13.5" lengthAdjust="spacingAndGlyphs">65.77</text>
<text transform="translate(442.7 95.2) rotate(-90)" x="0" y="0" font-size="8.40" text-anchor="middle" fill="#222" textLength="18.7" lengthAdjust="spacingAndGlyphs" stroke="#222" stroke-width="0.3">TCR&#945;&#946;</text>
<text x="471.9" y="127.8" font-size="5.30" text-anchor="middle" fill="#444" textLength="15.4" lengthAdjust="spacingAndGlyphs">TCR&#947;&#948;</text>
<text x="47.4" y="153.4" font-size="8.00" text-anchor="start" fill="#222" textLength="55.0" lengthAdjust="spacingAndGlyphs" stroke="#222" stroke-width="0.12">Gated on CD45<tspan font-size="4.8" dy="-2.3">+</tspan></text>
<text x="53.0" y="162.0" font-size="8.00" text-anchor="start" fill="#222" textLength="43.3" lengthAdjust="spacingAndGlyphs" stroke="#222" stroke-width="0.12">CD56<tspan font-size="4.5" dy="-2.6">-</tspan><tspan dy="2.6">CD14</tspan><tspan font-size="4.5" dy="-2.6">-</tspan></text>
<text x="136.3" y="162.0" font-size="8.00" text-anchor="start" fill="#222" textLength="76.0" lengthAdjust="spacingAndGlyphs" stroke="#222" stroke-width="0.12">Gated on CD34<tspan font-size="4.5" dy="-2.6">-</tspan><tspan dy="2.6">CD19</tspan><tspan font-size="4.5" dy="-2.6">-</tspan></text>
<text x="275.2" y="162.0" font-size="8.00" text-anchor="start" fill="#222" textLength="55.0" lengthAdjust="spacingAndGlyphs" stroke="#222" stroke-width="0.12">Gated on CD45<tspan font-size="4.8" dy="-2.3">+</tspan></text>
<text x="20.6" y="190.0" font-size="7.60" text-anchor="middle" fill="#111" font-weight="bold" stroke="#111" stroke-width="0.15">RD</text>
<text x="20.8" y="198.0" font-size="7.60" text-anchor="middle" fill="#111" font-weight="bold" stroke="#111" stroke-width="0.15">(P1)</text>
<text x="47.4" y="264.8" font-size="8.00" text-anchor="start" fill="#222" textLength="55.0" lengthAdjust="spacingAndGlyphs" stroke="#222" stroke-width="0.12">Gated on CD45<tspan font-size="4.8" dy="-2.3">+</tspan></text>
<text x="53.0" y="273.2" font-size="8.00" text-anchor="start" fill="#222" textLength="43.3" lengthAdjust="spacingAndGlyphs" stroke="#222" stroke-width="0.12">CD56<tspan font-size="4.5" dy="-2.6">-</tspan><tspan dy="2.6">CD14</tspan><tspan font-size="4.5" dy="-2.6">-</tspan></text>
<text x="136.3" y="273.2" font-size="8.00" text-anchor="start" fill="#222" textLength="76.0" lengthAdjust="spacingAndGlyphs" stroke="#222" stroke-width="0.12">Gated on CD34<tspan font-size="4.5" dy="-2.6">-</tspan><tspan dy="2.6">CD19</tspan><tspan font-size="4.5" dy="-2.6">-</tspan></text>
<text x="275.2" y="273.2" font-size="8.00" text-anchor="start" fill="#222" textLength="55.0" lengthAdjust="spacingAndGlyphs" stroke="#222" stroke-width="0.12">Gated on CD45<tspan font-size="4.8" dy="-2.3">+</tspan></text>
<text x="20.6" y="301.4" font-size="7.60" text-anchor="middle" fill="#111" font-weight="bold" stroke="#111" stroke-width="0.15">X-SCID</text>
<text x="20.8" y="309.4" font-size="7.60" text-anchor="middle" fill="#111" font-weight="bold" stroke="#111" stroke-width="0.15">(P2)</text>
<text x="47.4" y="374.6" font-size="8.00" text-anchor="start" fill="#222" textLength="55.0" lengthAdjust="spacingAndGlyphs" stroke="#222" stroke-width="0.12">Gated on CD45<tspan font-size="4.8" dy="-2.3">+</tspan></text>
<text x="53.0" y="383.0" font-size="8.00" text-anchor="start" fill="#222" textLength="43.3" lengthAdjust="spacingAndGlyphs" stroke="#222" stroke-width="0.12">CD56<tspan font-size="4.5" dy="-2.6">-</tspan><tspan dy="2.6">CD14</tspan><tspan font-size="4.5" dy="-2.6">-</tspan></text>
<text x="136.3" y="383.0" font-size="8.00" text-anchor="start" fill="#222" textLength="76.0" lengthAdjust="spacingAndGlyphs" stroke="#222" stroke-width="0.12">Gated on CD34<tspan font-size="4.5" dy="-2.6">-</tspan><tspan dy="2.6">CD19</tspan><tspan font-size="4.5" dy="-2.6">-</tspan></text>
<text x="275.2" y="383.0" font-size="8.00" text-anchor="start" fill="#222" textLength="55.0" lengthAdjust="spacingAndGlyphs" stroke="#222" stroke-width="0.12">Gated on CD45<tspan font-size="4.8" dy="-2.3">+</tspan></text>
<text x="20.6" y="411.2" font-size="7.60" text-anchor="middle" fill="#111" font-weight="bold" stroke="#111" stroke-width="0.15">X-SCID</text>
<text x="20.8" y="419.2" font-size="7.60" text-anchor="middle" fill="#111" font-weight="bold" stroke="#111" stroke-width="0.15">(P3)</text>
<rect x="52.3" y="169.0" width="46.7" height="45.6" fill="none" stroke="#dedede" stroke-width="0.6"/>
<path d="M52.3 205.5h1.2M61.6 214.6v-1.2M52.3 196.4h1.2M71.0 214.6v-1.2M52.3 187.2h1.2M80.3 214.6v-1.2M52.3 178.1h1.2M89.7 214.6v-1.2" stroke="#bbb" stroke-width="0.5" fill="none"/>
<path d="M50.5 217.0V171.0" stroke="#222" stroke-width="1.1" fill="none"/>
<path d="M49.2 171.7L50.5 168.5L51.8 171.7Z" fill="#111"/>
<path d="M50.0 216.6H96.6" stroke="#222" stroke-width="1.1" fill="none"/>
<path d="M95.9 215.3L99.1 216.6L95.9 217.9Z" fill="#111"/>
<path fill="#2f3c9c" fill-rule="evenodd" d="M60.5 210.9 58.0 209.9 56.0 208.5 54.5 206.5 53.5 204.0 53.3 202.5 53.3 201.0 53.6 199.5 54.1 198.0 55.8 195.5 58.4 193.0 58.8 192.0 58.4 191.2 55.4 189.8 54.4 188.5 53.2 184.2 53.2 182.8 53.5 180.5 54.3 178.9 55.0 178.4 56.0 178.1 61.8 177.1 67.3 176.8 69.3 176.9 70.4 177.5 71.2 178.5 72.2 181.0 72.5 182.5 72.2 185.2 71.6 188.2 71.2 189.2 70.0 190.8 69.7 191.2 70.0 192.8 70.6 193.5 71.8 194.2 76.1 195.3 77.9 196.2 78.8 197.2 79.3 198.2 79.5 199.2 79.4 200.5 78.8 201.8 77.8 202.9 73.8 205.2 70.3 208.5 68.3 209.8 66.6 210.6 64.6 211.1 62.5 211.2ZM78.1 187.5 77.1 187.3 76.3 186.6 75.7 185.5 75.6 184.2 75.8 183.0 76.3 182.0 77.1 181.4 78.1 181.1 79.1 181.4 79.7 182.0 80.2 183.0 80.4 184.2 80.3 185.5 79.8 186.5 79.1 187.2Z"/>
<path fill="#3a56bd" fill-rule="evenodd" d="M60.8 209.7 58.8 208.9 56.9 207.5 55.6 205.8 54.8 203.8 54.6 202.5 54.6 201.0 54.9 199.5 55.4 198.2 57.0 196.0 59.9 193.5 60.3 192.5 60.1 191.8 59.5 191.0 56.0 189.6 55.0 188.5 54.2 186.2 53.7 184.2 54.0 180.8 54.3 179.8 54.8 179.2 55.5 178.7 56.5 178.4 61.8 177.6 67.3 177.3 69.1 177.4 70.1 177.9 70.9 179.0 71.8 181.2 71.9 183.0 71.2 188.0 70.5 189.2 69.0 190.5 68.6 191.0 68.5 193.5 69.3 194.4 71.3 195.7 76.1 197.6 76.9 198.8 77.1 200.0 76.8 200.8 76.1 201.5 73.3 203.5 70.1 207.0 68.1 208.6 66.3 209.4 64.6 209.8 62.5 209.9ZM78.1 185.6 77.3 185.2 77.0 184.2 77.3 183.4 78.1 183.0 78.7 183.5 79.0 184.2 78.8 185.0Z"/>
<path fill="#4a86d6" fill-rule="evenodd" d="M61.3 208.1 59.0 207.1 58.1 206.2 57.3 205.2 56.4 203.0 56.4 200.8 57.2 198.5 58.5 196.8 60.3 195.5 63.7 194.0 63.7 193.8 60.7 190.5 59.5 189.9 56.8 189.0 55.8 188.2 55.3 187.0 54.5 184.2 54.8 181.0 55.1 180.2 55.5 179.8 57.0 179.2 62.0 178.4 67.3 178.1 68.8 178.2 69.6 178.6 70.1 179.2 71.0 181.8 71.1 183.8 70.5 187.2 70.3 188.0 69.8 188.8 67.7 190.0 67.1 190.5 66.3 192.5 64.7 194.0 68.6 196.0 70.1 197.2 70.9 198.2 71.4 199.2 71.6 200.2 71.5 201.2 71.0 202.8 70.0 204.5 68.8 205.9 67.6 206.9 66.1 207.7 64.6 208.2 62.8 208.3Z"/>
<path fill="#6cc0ea" fill-rule="evenodd" d="M69.3 187.5 68.6 188.2 66.3 189.4 64.6 191.0 64.1 191.1 63.3 190.9 61.0 189.4 57.5 188.0 56.8 187.4 56.3 186.4 55.7 184.2 55.7 182.8 56.0 181.3 56.5 180.8 57.0 180.5 61.3 179.6 67.1 179.3 68.4 179.5 69.3 180.4 69.8 181.5 70.1 182.8 70.0 185.0ZM62.5 207.1 61.3 206.8 60.1 206.2 59.2 205.5 58.4 204.5 57.9 203.2 57.7 202.0 57.8 200.8 58.2 199.5 58.8 198.4 59.7 197.5 60.8 196.7 62.0 196.2 64.6 195.9 67.3 196.6 68.8 197.6 69.8 199.0 70.0 200.8 69.5 202.8 68.2 204.8 66.6 206.2 64.6 207.0Z"/>
<path fill="#93c842" fill-rule="evenodd" d="M68.2 184.8 67.8 185.8 66.8 186.6 65.3 187.2 63.8 187.4 62.0 187.1 60.7 186.5 59.7 185.5 59.4 184.5 59.7 183.5 60.8 182.5 62.3 181.9 64.1 181.7 65.8 182.0 67.2 182.8 68.1 183.8ZM60.8 205.7 59.4 204.5 58.9 203.5 58.6 202.5 58.6 201.2 58.9 200.2 60.0 198.5 61.5 197.3 63.8 196.8 65.3 196.8 66.6 197.1 68.3 198.0 69.1 199.2 69.2 201.0 68.7 202.8 67.4 204.5 65.8 205.7 64.1 206.3 62.3 206.3Z"/>
<path fill="#f0e01e" fill-rule="evenodd" d="M62.3 203.7 61.8 203.0 61.6 202.0 61.9 201.0 62.6 200.0 63.5 199.4 64.8 199.0 66.1 199.1 66.8 199.5 67.2 200.2 67.2 201.2 66.8 202.2 66.1 203.1 65.1 203.8 64.1 204.1 63.0 204.0Z"/>
<path fill="#f4a81c" fill-rule="evenodd" d="M62.7 203.2 62.3 202.5 62.2 201.8 62.5 201.0 63.1 200.2 64.1 199.7 65.1 199.4 65.8 199.5 66.5 200.0 66.8 200.5 66.8 201.2 66.5 202.0 65.8 202.8 65.1 203.3 64.1 203.6 63.3 203.6Z"/>
<path fill="#e2201b" fill-rule="evenodd" d="M63.2 203.0 62.8 202.6 62.7 202.0 62.9 201.2 63.3 200.6 64.1 200.1 64.8 199.8 65.6 199.8 66.1 200.1 66.3 200.5 66.4 201.2 65.7 202.5 64.3 203.2Z"/>
<path d="M52.8 174.4H72.7V212.2M52.8 190.7H72.7M72.7 190.7H95.7V212.2H72.7" stroke="#8a8a8a" stroke-width="0.60" fill="none"/>
<text x="74.1" y="178.9" font-size="5.30" text-anchor="start" fill="#3a3a3a" textLength="13.6" lengthAdjust="spacingAndGlyphs">21.57</text>
<text x="84.2" y="196.9" font-size="5.30" text-anchor="start" fill="#3a3a3a" textLength="10.4" lengthAdjust="spacingAndGlyphs">3.40</text>
<rect x="52.4" y="206.7" width="14.2" height="4.9" fill="#fff" fill-opacity="0.82"/>
<text x="52.8" y="210.8" font-size="5.30" text-anchor="start" fill="#3a3a3a" textLength="13.4" lengthAdjust="spacingAndGlyphs">71.95</text>
<text transform="translate(45.4 192.1) rotate(-90)" x="0" y="0" font-size="8.40" text-anchor="middle" fill="#222" textLength="12.5" lengthAdjust="spacingAndGlyphs" stroke="#222" stroke-width="0.3">CD34</text>
<text x="75.2" y="226.6" font-size="8.40" text-anchor="middle" fill="#222" textLength="12.4" lengthAdjust="spacingAndGlyphs" stroke="#222" stroke-width="0.3">CD19</text>
<rect x="119.9" y="169.0" width="45.3" height="45.6" fill="none" stroke="#dedede" stroke-width="0.6"/>
<path d="M119.9 205.5h1.2M129.0 214.6v-1.2M119.9 196.4h1.2M138.0 214.6v-1.2M119.9 187.2h1.2M147.1 214.6v-1.2M119.9 178.1h1.2M156.1 214.6v-1.2" stroke="#bbb" stroke-width="0.5" fill="none"/>
<path d="M117.8 217.0V171.0" stroke="#222" stroke-width="1.1" fill="none"/>
<path d="M116.5 171.7L117.8 168.5L119.1 171.7Z" fill="#111"/>
<path d="M117.3 216.6H162.7" stroke="#222" stroke-width="1.1" fill="none"/>
<path d="M162.0 215.3L165.2 216.6L162.0 217.9Z" fill="#111"/>
<path fill="#2f3c9c" fill-rule="evenodd" d="M158.5 188.8 159.2 190.8 159.5 192.8 158.7 200.0 159.1 204.8 159.1 206.5 158.8 207.8 158.0 209.0 156.9 210.2 155.4 211.3 154.1 211.9 152.6 212.4 149.9 212.6 148.1 212.3 143.6 211.0 141.4 210.8 134.4 210.7 126.9 210.9 123.4 210.1 122.3 209.2 122.1 208.2 122.3 207.0 123.8 204.2 129.6 198.8 134.9 192.3 135.6 191.7 143.6 186.7 146.1 185.3 147.9 184.6 149.9 184.1 151.4 184.1 154.1 184.8 156.1 185.7 157.2 186.8Z"/>
<path fill="#3a56bd" fill-rule="evenodd" d="M157.8 189.0 158.4 190.5 158.6 192.8 158.1 200.0 158.4 205.0 158.3 206.8 158.0 207.8 157.4 208.6 156.1 209.8 154.6 210.9 152.9 211.5 150.4 211.7 148.1 211.5 143.4 210.4 140.6 210.1 134.1 210.1 127.4 210.4 126.4 210.2 124.9 209.5 123.8 208.8 123.2 208.0 123.1 207.2 123.2 206.5 124.3 204.5 129.9 199.2 135.4 192.7 143.9 187.2 147.9 185.3 149.9 184.8 151.1 184.7 153.6 185.3 155.6 186.1 156.6 187.0Z"/>
<path fill="#4a86d6" fill-rule="evenodd" d="M150.4 210.8 147.6 210.5 145.1 209.8 143.9 209.0 143.0 207.8 142.6 206.2 142.6 204.5 143.0 203.0 144.0 200.8 144.2 199.8 144.0 198.8 142.5 195.5 142.1 193.0 142.3 191.5 142.7 190.2 143.2 189.2 143.9 188.5 145.4 187.5 147.4 186.5 149.4 185.9 150.9 185.7 153.4 186.2 155.2 187.0 156.4 188.4 157.4 190.2 157.7 193.5 157.2 200.8 157.5 205.5 157.4 206.8 157.1 207.5 156.3 208.5 154.9 209.7 153.1 210.5ZM124.6 207.8 124.3 207.2 124.4 206.5 125.0 205.5 125.9 204.6 127.4 203.5 129.1 202.6 134.6 200.9 135.3 200.2 136.1 198.2 136.9 197.4 137.6 197.1 138.6 197.1 139.4 197.5 139.9 198.0 140.3 198.8 140.3 199.5 139.7 201.0 137.5 203.0 135.4 205.5 133.1 207.2 130.4 208.6 127.7 209.2 126.9 209.2 125.9 208.8Z"/>
<path fill="#6cc0ea" fill-rule="evenodd" d="M151.1 210.1 148.4 209.9 146.4 209.1 145.6 208.4 145.0 207.5 144.5 205.8 144.8 203.8 146.4 201.0 146.7 199.8 146.4 198.5 144.9 196.0 144.4 194.5 144.2 192.8 144.5 191.2 145.4 189.5 146.6 188.2 148.4 187.4 150.1 187.0 151.4 187.1 152.6 187.4 153.9 188.0 154.9 188.7 155.8 189.8 156.3 190.8 156.7 193.0 156.6 195.0 155.7 200.5 155.8 201.8 156.5 204.8 156.3 206.8 155.6 208.0 154.1 209.3 152.9 209.8ZM128.5 206.2 128.6 205.8 129.5 205.0 130.6 204.6 131.5 204.8 131.4 205.2 130.5 206.0 129.1 206.4Z"/>
<path fill="#93c842" fill-rule="evenodd" d="M151.1 209.6 149.1 209.4 147.4 208.7 146.1 207.4 145.6 205.8 145.9 204.0 147.8 201.0 148.1 199.8 147.8 198.5 145.6 194.8 145.3 193.2 145.4 191.8 146.0 190.2 146.9 189.2 148.1 188.4 149.9 188.0 152.1 188.3 154.0 189.2 155.3 191.0 155.8 193.2 155.7 195.0 154.4 200.5 154.6 201.8 155.6 204.5 155.5 206.5 154.8 207.8 153.9 208.7 152.6 209.3Z"/>
<path fill="#f0e01e" fill-rule="evenodd" d="M153.1 195.5 152.6 195.8 151.9 196.0 151.1 195.8 150.4 195.3 148.0 192.8 147.7 191.8 148.1 190.7 148.6 190.3 149.4 190.1 151.1 190.6 152.4 190.2 153.0 190.5 153.2 191.0 153.0 192.2 153.7 194.0 153.6 194.8ZM151.9 207.5 150.9 207.6 150.1 207.4 149.3 206.8 148.9 206.0 148.8 205.0 149.1 204.2 149.8 203.5 150.6 203.1 151.6 203.1 152.4 203.4 153.1 204.0 153.5 204.8 153.5 205.8 153.2 206.5 152.6 207.1Z"/>
<path fill="#f4a81c" fill-rule="evenodd" d="M152.9 195.1 151.9 195.4 151.0 195.0 150.1 193.8 148.4 192.5 148.2 191.8 148.4 191.0 149.1 190.6 149.9 190.6 150.5 191.0 151.4 192.0 152.6 192.8 153.1 193.5 153.3 194.0 153.3 194.5ZM152.1 191.5 152.0 191.0 152.2 190.8 152.6 190.8 152.6 191.3ZM151.9 207.1 151.1 207.2 150.4 207.0 149.7 206.5 149.4 206.0 149.3 205.2 149.6 204.5 150.6 203.6 151.4 203.5 152.1 203.8 152.6 204.2 153.0 204.8 153.1 205.5 152.9 206.2Z"/>
<path fill="#e2201b" fill-rule="evenodd" d="M150.3 192.5 149.6 192.7 148.9 192.4 148.6 191.8 148.8 191.2 149.4 190.9 149.9 191.1 150.4 191.8ZM152.6 194.8 152.1 195.0 151.4 194.8 151.0 194.0 151.1 193.2 151.9 193.0 152.6 193.4 152.9 194.0ZM151.6 206.8 150.9 206.8 150.4 206.6 149.8 205.8 149.9 204.7 150.3 204.2 150.9 204.0 151.6 203.9 152.1 204.2 152.7 205.0 152.6 206.0 152.3 206.5Z"/>
<path d="M132.6 181H159.6V200.4H132.6Z" stroke="#8a8a8a" stroke-width="0.60" fill="none"/>
<text x="140.2" y="176.8" font-size="5.30" text-anchor="start" fill="#3a3a3a" textLength="13.2" lengthAdjust="spacingAndGlyphs">56.97</text>
<text transform="translate(111.0 192.3) rotate(-90)" x="0" y="0" font-size="8.40" text-anchor="middle" fill="#222" textLength="9.0" lengthAdjust="spacingAndGlyphs" stroke="#222" stroke-width="0.3">CD5</text>
<text x="142.6" y="226.6" font-size="8.40" text-anchor="middle" fill="#222" textLength="9.5" lengthAdjust="spacingAndGlyphs" stroke="#222" stroke-width="0.3">CD7</text>
<rect x="183.4" y="169.0" width="45.7" height="45.6" fill="none" stroke="#dedede" stroke-width="0.6"/>
<path d="M183.4 205.5h1.2M192.5 214.6v-1.2M183.4 196.4h1.2M201.7 214.6v-1.2M183.4 187.2h1.2M210.8 214.6v-1.2M183.4 178.1h1.2M220.0 214.6v-1.2" stroke="#bbb" stroke-width="0.5" fill="none"/>
<path d="M181.4 217.0V171.0" stroke="#222" stroke-width="1.1" fill="none"/>
<path d="M180.1 171.7L181.4 168.5L182.7 171.7Z" fill="#111"/>
<path d="M180.9 216.6H227.0" stroke="#222" stroke-width="1.1" fill="none"/>
<path d="M226.3 215.3L229.5 216.6L226.3 217.9Z" fill="#111"/>
<path fill="#2f3c9c" fill-rule="evenodd" d="M222.8 206.0 222.3 207.5 220.8 210.5 220.0 211.8 219.4 212.3 218.4 212.6 214.6 212.9 212.1 212.9 206.1 211.8 204.9 211.3 204.0 210.2 202.1 206.8 201.4 206.0 200.6 205.6 197.9 205.0 193.6 205.0 190.9 204.7 187.6 203.9 185.4 203.1 184.1 202.2 183.4 201.4 183.4 199.4 184.2 198.2 185.4 197.0 186.1 196.5 187.1 196.2 188.1 196.2 190.9 196.6 197.1 196.7 198.9 196.5 200.9 196.0 202.1 194.8 205.0 190.5 205.9 189.6 207.6 188.8 211.9 187.5 212.9 187.3 214.1 187.4 218.1 188.4 219.1 188.9 220.3 190.5 222.0 193.8 222.6 195.5 223.0 201.2Z"/>
<path fill="#3a56bd" fill-rule="evenodd" d="M222.4 205.8 222.1 207.0 220.6 210.0 219.8 211.2 219.1 211.8 218.1 212.1 214.6 212.4 212.1 212.4 210.1 212.2 206.4 211.4 205.1 210.9 204.4 210.0 202.4 206.2 201.4 205.0 200.6 204.4 198.6 204.1 193.4 204.3 189.6 203.5 187.4 202.6 185.9 201.8 185.2 200.8 185.1 199.5 185.4 198.5 186.0 197.8 186.6 197.2 187.4 197.0 188.4 197.0 190.6 197.5 197.4 197.7 199.1 197.6 200.9 197.3 201.6 196.6 205.3 191.0 206.3 190.0 208.1 189.2 212.1 188.0 213.1 187.9 214.4 188.0 217.6 188.7 218.8 189.2 220.0 191.0 221.6 194.0 222.1 195.8 222.6 201.2Z"/>
<path fill="#4a86d6" fill-rule="evenodd" d="M221.7 205.5 221.2 207.0 220.1 209.0 219.1 210.4 218.4 210.9 217.1 211.3 214.4 211.5 212.1 211.5 210.1 211.2 206.9 210.5 205.7 209.8 203.3 205.8 201.1 202.8 200.6 202.4 199.6 202.4 195.4 203.2 192.5 203.0 191.1 202.5 189.8 201.8 187.8 200.0 187.6 199.2 188.1 199.0 189.9 199.4 193.9 199.0 198.6 199.7 200.6 199.6 201.4 199.0 203.6 195.4 206.1 192.0 207.1 191.0 208.6 190.2 211.9 189.3 213.4 189.1 214.9 189.2 217.1 189.8 218.4 190.5 219.6 192.1 220.9 194.6 221.3 196.2 221.9 201.2Z"/>
<path fill="#6cc0ea" fill-rule="evenodd" d="M217.6 209.9 215.6 210.4 212.6 210.4 209.9 210.0 207.6 209.3 206.4 208.2 204.4 204.6 202.6 202.4 202.4 200.8 202.9 199.2 206.9 193.4 207.9 192.4 208.9 191.7 212.6 190.7 214.1 190.6 215.4 190.8 216.9 191.4 217.9 192.0 218.7 193.0 219.5 194.5 220.3 196.5 220.9 199.2 221.2 201.8 221.1 204.2 220.7 206.0 219.9 207.7 218.9 209.0ZM195.5 201.5 195.1 201.8 194.1 201.8 193.4 201.5 193.3 201.2 193.6 200.9 194.6 200.8 195.2 201.0 195.5 201.2Z"/>
<path fill="#93c842" fill-rule="evenodd" d="M216.1 209.4 214.1 209.5 212.1 209.3 209.9 208.5 208.5 207.8 207.6 206.8 204.8 201.8 204.7 200.8 204.9 199.8 206.1 197.4 209.1 194.0 209.9 193.5 211.2 193.0 212.9 192.6 214.1 192.5 215.4 192.8 216.6 193.3 217.6 194.2 218.6 195.5 219.4 196.8 220.0 198.5 220.5 200.5 220.7 202.2 220.6 204.0 220.2 205.5 219.5 207.0 218.4 208.3 217.4 209.0Z"/>
<path fill="#f0e01e" fill-rule="evenodd" d="M215.6 206.2 214.4 206.1 213.1 205.3 212.4 204.2 212.0 202.8 212.2 201.2 212.8 200.0 213.9 199.1 215.1 198.8 216.4 199.0 217.5 199.8 218.2 200.8 218.5 202.2 218.4 203.8 217.7 205.0 216.9 205.8Z"/>
<path fill="#f4a81c" fill-rule="evenodd" d="M215.6 205.5 214.6 205.4 213.6 204.9 213.0 204.0 212.6 202.8 212.8 201.5 213.3 200.5 214.1 199.8 215.1 199.5 216.1 199.7 217.1 200.2 217.6 201.1 218.0 202.2 217.9 203.2 217.4 204.4 216.6 205.1Z"/>
<path fill="#e2201b" fill-rule="evenodd" d="M215.6 204.9 214.6 204.8 213.9 204.4 213.4 203.7 213.1 202.8 213.2 201.8 213.6 200.9 214.4 200.3 215.1 200.1 215.9 200.2 216.6 200.6 217.2 201.2 217.5 202.2 217.4 203.2 217.0 204.0 216.4 204.6Z"/>
<path d="M183.6 194.8H201.3V212.2M201.3 194.8L214.2 175.4M194.8 175.4H220.5V212.2M201.3 194.8H220.5" stroke="#8a8a8a" stroke-width="0.60" fill="none"/>
<text x="184.4" y="175.4" font-size="5.30" text-anchor="start" fill="#3a3a3a" textLength="10.4" lengthAdjust="spacingAndGlyphs">0.94</text>
<text x="217.7" y="175.4" font-size="5.30" text-anchor="start" fill="#3a3a3a" textLength="10.4" lengthAdjust="spacingAndGlyphs">5.66</text>
<rect x="184.0" y="206.7" width="14.7" height="4.9" fill="#fff" fill-opacity="0.82"/>
<text x="184.4" y="210.8" font-size="5.30" text-anchor="start" fill="#3a3a3a" textLength="13.9" lengthAdjust="spacingAndGlyphs">12.94</text>
<rect x="214.5" y="206.7" width="14.0" height="4.9" fill="#fff" fill-opacity="0.82"/>
<text x="214.9" y="210.8" font-size="5.30" text-anchor="start" fill="#3a3a3a" textLength="13.2" lengthAdjust="spacingAndGlyphs">79.68</text>
<text transform="translate(176.6 191.4) rotate(-90)" x="0" y="0" font-size="8.40" text-anchor="middle" fill="#222" textLength="12.8" lengthAdjust="spacingAndGlyphs" stroke="#222" stroke-width="0.3">CD1a</text>
<text x="206.0" y="226.6" font-size="8.40" text-anchor="middle" fill="#222" textLength="9.5" lengthAdjust="spacingAndGlyphs" stroke="#222" stroke-width="0.3">CD7</text>
<rect x="248.0" y="169.0" width="46.5" height="45.6" fill="none" stroke="#dedede" stroke-width="0.6"/>
<path d="M248.0 205.5h1.2M257.3 214.6v-1.2M248.0 196.4h1.2M266.6 214.6v-1.2M248.0 187.2h1.2M275.9 214.6v-1.2M248.0 178.1h1.2M285.2 214.6v-1.2" stroke="#bbb" stroke-width="0.5" fill="none"/>
<path d="M244.8 217.0V171.0" stroke="#222" stroke-width="1.1" fill="none"/>
<path d="M243.5 171.7L244.8 168.5L246.1 171.7Z" fill="#111"/>
<path d="M244.3 216.6H291.3" stroke="#222" stroke-width="1.1" fill="none"/>
<path d="M290.6 215.3L293.8 216.6L290.6 217.9Z" fill="#111"/>
<path fill="#2f3c9c" fill-rule="evenodd" d="M258.2 210.7 257.2 210.4 256.0 209.6 254.4 207.8 253.8 206.5 253.4 205.0 253.4 203.5 253.6 202.2 254.1 200.8 255.5 198.5 256.2 196.8 256.7 192.2 257.0 191.3 257.5 190.9 259.8 189.6 262.2 189.0 263.2 188.9 263.8 189.1 264.3 189.8 265.0 191.0 265.3 192.0 265.4 198.2 264.8 199.8 264.9 200.2 265.5 200.8 266.0 200.9 268.8 200.8 270.5 201.2 271.7 202.2 272.1 203.0 272.0 203.8 271.4 204.8 270.2 205.5 269.0 205.8 266.8 205.8 266.0 206.0 263.8 208.9 262.0 210.3 260.2 210.8Z"/>
<path fill="#3a56bd" fill-rule="evenodd" d="M258.5 209.9 257.5 209.6 256.5 209.0 255.0 207.2 254.2 205.0 254.1 203.8 254.3 202.5 254.8 201.0 255.9 199.2 256.7 196.8 257.5 191.8 258.0 191.2 260.0 190.2 263.0 189.5 263.5 189.7 264.5 191.3 264.7 192.2 264.8 198.2 264.5 198.9 263.8 199.5 263.8 200.2 264.8 201.5 265.5 202.1 266.0 202.2 268.0 201.7 269.2 201.8 270.5 202.5 270.8 203.5 270.4 204.2 269.2 204.9 268.2 205.0 265.8 204.7 265.0 205.4 263.7 207.8 262.5 209.0 261.5 209.6 260.5 209.9Z"/>
<path fill="#4a86d6" fill-rule="evenodd" d="M260.0 208.9 258.2 208.7 256.6 207.8 255.5 206.2 255.0 204.2 255.1 203.0 255.4 202.0 255.9 201.0 257.2 199.5 257.5 198.4 258.1 198.0 259.2 197.8 260.8 197.9 261.6 198.5 261.8 199.5 263.6 202.0 264.1 203.5 263.8 205.2 262.8 207.2 261.5 208.4Z"/>
<path fill="#6cc0ea" fill-rule="evenodd" d="M259.5 208.1 258.0 207.8 256.9 207.0 255.9 205.5 255.7 204.0 255.9 202.5 256.8 201.0 258.0 200.1 259.5 199.7 261.0 200.1 262.1 201.0 263.0 202.5 263.2 204.0 262.9 205.8 262.0 207.0 260.8 207.9Z"/>
<path fill="#93c842" fill-rule="evenodd" d="M260.0 207.6 258.8 207.6 257.5 207.0 256.7 206.0 256.1 204.5 256.2 203.0 256.7 201.8 257.8 200.8 259.0 200.3 260.2 200.4 261.5 201.1 262.4 202.2 262.7 203.5 262.6 205.0 262.0 206.2 261.0 207.2Z"/>
<path fill="#f0e01e" fill-rule="evenodd" d="M259.8 205.9 259.0 206.0 258.2 205.6 257.7 205.0 257.4 204.2 257.4 203.5 257.8 202.7 258.2 202.1 259.0 201.8 259.8 201.9 260.5 202.2 260.9 202.8 261.2 203.5 261.2 204.2 260.9 205.0 260.5 205.5Z"/>
<path fill="#f4a81c" fill-rule="evenodd" d="M259.5 205.6 259.0 205.6 258.4 205.2 257.8 204.2 257.9 203.0 258.4 202.5 259.0 202.2 259.5 202.2 260.2 202.5 260.8 203.5 260.6 204.8 260.2 205.2Z"/>
<path fill="#e2201b" fill-rule="evenodd" d="M259.2 205.3 258.8 205.1 258.3 204.8 258.0 203.8 258.5 202.8 259.2 202.5 259.8 202.6 260.2 203.0 260.5 204.0 260.0 205.0Z"/>
<path d="M267.7 168.5V214.2M248 197.6H267.7M267.7 199H294.5" stroke="#8a8a8a" stroke-width="0.60" fill="none"/>
<text x="249.4" y="175.0" font-size="5.30" text-anchor="start" fill="#3a3a3a" textLength="10.4" lengthAdjust="spacingAndGlyphs">2.41</text>
<text x="277.9" y="175.0" font-size="5.30" text-anchor="start" fill="#3a3a3a" textLength="10.4" lengthAdjust="spacingAndGlyphs">0.91</text>
<rect x="249.4" y="206.7" width="14.3" height="4.9" fill="#fff" fill-opacity="0.82"/>
<text x="249.8" y="210.8" font-size="5.30" text-anchor="start" fill="#3a3a3a" textLength="13.5" lengthAdjust="spacingAndGlyphs">95.50</text>
<text x="278.4" y="210.8" font-size="5.30" text-anchor="start" fill="#3a3a3a" textLength="9.6" lengthAdjust="spacingAndGlyphs">1.18</text>
<text transform="translate(240.4 192.1) rotate(-90)" x="0" y="0" font-size="8.40" text-anchor="middle" fill="#222" textLength="9.5" lengthAdjust="spacingAndGlyphs" stroke="#222" stroke-width="0.3">CD4</text>
<text x="270.0" y="226.6" font-size="8.40" text-anchor="middle" fill="#222" textLength="13.9" lengthAdjust="spacingAndGlyphs" stroke="#222" stroke-width="0.3">CD8&#946;</text>
<rect x="312.0" y="169.0" width="46.8" height="45.6" fill="none" stroke="#dedede" stroke-width="0.6"/>
<path d="M312.0 205.5h1.2M321.4 214.6v-1.2M312.0 196.4h1.2M330.7 214.6v-1.2M312.0 187.2h1.2M340.1 214.6v-1.2M312.0 178.1h1.2M349.4 214.6v-1.2" stroke="#bbb" stroke-width="0.5" fill="none"/>
<path d="M309.6 217.0V171.0" stroke="#222" stroke-width="1.1" fill="none"/>
<path d="M308.3 171.7L309.6 168.5L310.9 171.7Z" fill="#111"/>
<path d="M309.1 216.6H355.6" stroke="#222" stroke-width="1.1" fill="none"/>
<path d="M354.9 215.3L358.1 216.6L354.9 217.9Z" fill="#111"/>
<path fill="#2f3c9c" fill-rule="evenodd" d="M336.2 205.8 335.4 207.5 333.8 209.2 331.5 210.4 329.0 211.1 327.0 211.3 325.0 211.1 318.0 209.9 313.8 210.0 312.0 209.8 311.8 207.5 311.8 202.2 312.0 199.8 313.5 199.6 318.2 199.6 325.5 198.0 327.8 198.0 330.0 198.3 332.8 199.4 334.0 200.2 335.0 201.2 335.7 202.2 336.2 203.5 336.3 204.5Z"/>
<path fill="#3a56bd" fill-rule="evenodd" d="M335.1 205.5 334.3 207.2 333.0 208.6 331.0 209.7 328.8 210.3 327.0 210.5 325.0 210.3 318.2 209.0 312.8 209.0 312.0 208.8 311.8 204.0 312.0 200.8 313.5 200.5 316.8 200.6 318.5 200.5 325.5 198.8 327.5 198.8 329.2 199.0 331.8 199.8 333.0 200.6 333.9 201.5 334.6 202.5 335.0 203.5 335.2 204.5Z"/>
<path fill="#4a86d6" fill-rule="evenodd" d="M333.7 205.0 333.2 206.5 332.0 207.8 330.2 208.8 328.2 209.3 326.5 209.4 324.8 209.2 320.2 208.0 318.2 207.7 313.2 207.8 312.0 207.4 312.0 202.2 313.8 201.8 316.8 202.0 318.5 201.8 324.5 200.1 326.5 199.8 328.2 199.8 330.5 200.4 332.2 201.6 333.5 203.2Z"/>
<path fill="#6cc0ea" fill-rule="evenodd" d="M332.7 204.8 332.2 206.2 331.0 207.5 329.2 208.4 327.5 208.6 324.5 208.4 320.0 206.8 318.2 206.4 316.8 206.3 313.5 206.6 312.6 206.2 312.0 205.7 312.0 203.9 313.0 203.1 314.0 203.0 316.8 203.3 318.2 203.2 320.0 202.6 324.2 200.9 327.0 200.5 329.0 200.7 331.0 201.6 332.3 203.0 332.6 203.8Z"/>
<path fill="#93c842" fill-rule="evenodd" d="M332.1 204.5 331.7 206.0 330.8 207.1 329.2 207.8 327.2 208.2 325.2 208.0 323.0 207.2 320.2 205.8 319.6 205.2 319.4 204.8 319.6 204.2 320.2 203.8 323.0 202.0 325.2 201.2 327.2 200.9 329.2 201.2 330.8 202.0 331.8 203.2Z"/>
<path fill="#f0e01e" fill-rule="evenodd" d="M329.4 206.0 328.0 206.5 326.2 206.2 325.0 205.2 324.8 204.8 324.9 204.0 325.5 203.2 326.8 202.6 328.0 202.4 329.0 202.6 329.9 203.2 330.3 204.2 330.1 205.2Z"/>
<path fill="#f4a81c" fill-rule="evenodd" d="M329.8 205.0 329.4 205.5 328.8 205.9 327.2 206.1 326.4 205.8 325.8 205.2 325.6 204.2 325.8 203.8 326.5 203.1 327.2 202.8 328.2 202.8 329.0 203.0 329.6 203.5 329.9 204.2Z"/>
<path fill="#e2201b" fill-rule="evenodd" d="M329.2 205.2 328.2 205.8 327.0 205.6 326.2 205.0 326.1 204.5 326.2 204.0 326.6 203.5 327.2 203.2 328.0 203.0 328.8 203.2 329.2 203.6 329.5 204.2Z"/>
<path d="M334.3 198.3L349.1 182.8L352.6 185.1L342.8 203.8Z" stroke="#777" stroke-width="0.6" fill="none"/>
<text x="331.0" y="185.8" font-size="5.30" text-anchor="start" fill="#3a3a3a" textLength="11.2" lengthAdjust="spacingAndGlyphs">0.18</text>
<text transform="translate(305.0 191.8) rotate(-90)" x="0" y="0" font-size="8.40" text-anchor="middle" fill="#222" textLength="18.5" lengthAdjust="spacingAndGlyphs" stroke="#222" stroke-width="0.3">TCR&#945;&#946;</text>
<text x="334.0" y="226.6" font-size="8.40" text-anchor="middle" fill="#222" textLength="9.5" lengthAdjust="spacingAndGlyphs" stroke="#222" stroke-width="0.3">CD3</text>
<rect x="50.4" y="279.2" width="48.6" height="46.0" fill="none" stroke="#dedede" stroke-width="0.6"/>
<path d="M50.4 316.0h1.2M60.1 325.2v-1.2M50.4 306.8h1.2M69.8 325.2v-1.2M50.4 297.6h1.2M79.6 325.2v-1.2M50.4 288.4h1.2M89.3 325.2v-1.2" stroke="#bbb" stroke-width="0.5" fill="none"/>
<path d="M48.6 328.0V281.0" stroke="#222" stroke-width="1.1" fill="none"/>
<path d="M47.3 281.7L48.6 278.5L49.9 281.7Z" fill="#111"/>
<path d="M48.1 327.6H96.6" stroke="#222" stroke-width="1.1" fill="none"/>
<path d="M95.9 326.3L99.1 327.6L95.9 328.9Z" fill="#111"/>
<path fill="#2f3c9c" fill-rule="evenodd" d="M60.7 321.4 59.4 321.3 58.4 320.9 57.4 320.1 56.7 319.3 55.5 317.2 53.8 312.5 53.2 309.5 53.1 306.5 53.5 304.0 54.7 300.0 54.5 299.0 53.2 296.7 52.9 295.5 53.1 294.5 53.5 293.5 55.2 291.9 57.7 290.8 60.7 290.4 62.9 290.6 65.2 291.3 66.9 292.4 68.0 293.7 68.4 295.0 68.4 296.0 67.2 299.0 67.1 299.7 68.6 304.0 69.0 307.5 68.8 310.0 68.2 312.2 67.3 314.5 65.6 317.7 64.6 319.2 63.4 320.4 62.2 321.1ZM62.8 324.5 62.2 325.2 60.4 325.3 58.4 325.2 57.8 324.5 58.1 324.0 58.7 323.6 60.4 323.2 62.2 323.7 62.5 324.0Z"/>
<path fill="#3a56bd" fill-rule="evenodd" d="M60.7 320.2 58.9 319.8 58.1 319.2 57.2 318.2 56.1 316.0 54.5 311.2 54.1 308.5 54.2 305.7 54.7 303.5 56.1 300.0 55.8 299.0 54.3 296.7 54.0 295.5 54.1 294.7 54.5 293.7 55.9 292.3 58.2 291.4 60.7 291.0 62.9 291.3 64.7 291.9 66.3 293.0 67.2 294.2 67.4 295.2 67.3 296.2 65.9 299.0 65.8 299.7 67.5 303.7 67.9 305.5 68.0 307.2 67.9 309.5 67.3 311.7 64.8 317.0 63.9 318.3 62.9 319.3 61.9 319.9ZM62.0 324.5 61.7 325.0 60.4 325.2 59.2 325.1 58.6 324.5 59.2 323.9 60.4 323.7 61.6 324.0Z"/>
<path fill="#4a86d6" fill-rule="evenodd" d="M60.7 318.3 59.9 318.2 59.0 317.7 58.3 317.0 57.7 316.0 55.8 310.7 55.4 307.5 55.5 305.7 56.0 304.0 56.7 302.5 58.1 300.5 58.3 299.7 57.9 299.0 55.8 296.7 55.4 295.7 55.5 294.7 56.2 293.6 57.4 292.7 58.9 292.1 60.7 291.9 62.4 292.1 63.9 292.6 65.1 293.5 65.8 294.5 66.0 295.5 65.8 296.5 64.1 298.7 63.7 299.5 63.9 300.0 65.5 302.0 66.3 303.5 66.8 305.2 66.9 307.0 66.7 308.7 66.2 310.7 64.0 315.2 62.4 317.5 61.7 318.0Z"/>
<path fill="#6cc0ea" fill-rule="evenodd" d="M64.8 296.2 64.1 297.2 62.9 298.1 61.7 298.6 60.4 298.7 58.7 298.1 57.4 297.2 56.7 296.2 56.5 295.2 56.9 294.2 58.1 293.2 59.7 292.7 61.4 292.7 63.2 293.1 64.3 294.0 64.9 295.0ZM60.7 316.4 59.9 316.2 59.3 315.7 58.0 313.5 56.7 310.0 56.4 307.0 56.8 304.5 57.9 302.5 59.7 300.9 60.7 300.4 61.4 300.3 62.4 300.5 63.4 301.1 64.9 302.5 65.8 304.5 66.1 307.0 65.7 309.5 64.4 312.2 62.2 315.5 61.4 316.2Z"/>
<path fill="#93c842" fill-rule="evenodd" d="M64.2 295.7 63.9 296.5 62.9 297.3 61.7 297.8 60.4 297.9 59.2 297.6 58.1 297.0 57.5 296.2 57.3 295.2 57.8 294.2 58.7 293.6 59.9 293.2 61.2 293.1 62.4 293.4 63.4 294.0 64.0 294.7ZM60.7 314.5 60.2 314.4 59.4 313.7 57.9 311.2 57.2 309.0 57.0 306.7 57.5 304.5 58.5 302.7 59.9 301.6 60.7 301.3 61.7 301.2 62.4 301.3 63.4 301.8 64.7 303.0 65.5 305.0 65.6 307.0 65.2 309.2 64.0 311.5 61.9 314.0 61.2 314.4Z"/>
<path fill="#f0e01e" fill-rule="evenodd" d="M61.7 295.7 61.4 296.0 60.7 296.2 60.0 296.0 59.8 295.5 60.2 295.0 60.9 294.9 61.6 295.2ZM61.4 309.7 60.4 309.4 59.8 308.7 59.2 307.5 59.1 306.2 59.5 305.0 60.1 304.0 60.9 303.4 61.9 303.3 62.7 303.5 63.4 304.2 63.9 305.2 64.1 306.5 63.8 307.7 63.2 308.8 62.4 309.4Z"/>
<path fill="#f4a81c" fill-rule="evenodd" d="M61.7 308.9 60.9 308.8 60.2 308.2 59.8 307.5 59.6 306.5 59.8 305.5 60.2 304.7 60.9 304.0 61.7 303.8 62.4 303.9 63.1 304.5 63.5 305.2 63.7 306.2 63.5 307.2 63.1 308.0 62.4 308.7Z"/>
<path fill="#e2201b" fill-rule="evenodd" d="M61.7 308.4 61.2 308.3 60.6 308.0 60.2 307.2 60.0 306.5 60.1 305.7 60.4 305.0 60.9 304.5 61.7 304.2 62.4 304.4 62.9 304.8 63.3 306.2 63.2 307.0 62.8 307.7 62.3 308.2Z"/>
<path d="M51.6 283.6H73.1V300.7H51.6M71.8 301.1H94.9V322.2H71.8M51.6 300.7V324.5H71.8V301.1" stroke="#8a8a8a" stroke-width="0.60" fill="none"/>
<text x="75.0" y="287.8" font-size="5.30" text-anchor="start" fill="#3a3a3a" textLength="13.0" lengthAdjust="spacingAndGlyphs">27.51</text>
<text x="82.8" y="307.6" font-size="5.30" text-anchor="start" fill="#3a3a3a" textLength="11.1" lengthAdjust="spacingAndGlyphs">0.00</text>
<rect x="51.9" y="318.1" width="14.0" height="4.9" fill="#fff" fill-opacity="0.82"/>
<text x="52.3" y="322.2" font-size="5.30" text-anchor="start" fill="#3a3a3a" textLength="13.2" lengthAdjust="spacingAndGlyphs">70.33</text>
<text transform="translate(45.4 302.5) rotate(-90)" x="0" y="0" font-size="8.40" text-anchor="middle" fill="#222" textLength="12.5" lengthAdjust="spacingAndGlyphs" stroke="#222" stroke-width="0.3">CD34</text>
<text x="75.2" y="337.4" font-size="8.40" text-anchor="middle" fill="#222" textLength="12.4" lengthAdjust="spacingAndGlyphs" stroke="#222" stroke-width="0.3">CD19</text>
<rect x="119.9" y="279.2" width="45.3" height="46.0" fill="none" stroke="#dedede" stroke-width="0.6"/>
<path d="M119.9 316.0h1.2M129.0 325.2v-1.2M119.9 306.8h1.2M138.0 325.2v-1.2M119.9 297.6h1.2M147.1 325.2v-1.2M119.9 288.4h1.2M156.1 325.2v-1.2" stroke="#bbb" stroke-width="0.5" fill="none"/>
<path d="M117.8 328.0V281.0" stroke="#222" stroke-width="1.1" fill="none"/>
<path d="M116.5 281.7L117.8 278.5L119.1 281.7Z" fill="#111"/>
<path d="M117.3 327.6H162.7" stroke="#222" stroke-width="1.1" fill="none"/>
<path d="M162.0 326.3L165.2 327.6L162.0 328.9Z" fill="#111"/>
<path fill="#2f3c9c" fill-rule="evenodd" d="M119.9 321.0 119.7 316.2 119.9 311.6 123.2 310.3 128.3 309.2 129.6 308.7 129.8 308.2 129.1 306.2 129.1 305.0 129.9 303.7 131.4 303.0 132.4 302.9 133.4 303.2 134.1 303.7 134.7 304.5 135.0 305.2 134.9 306.2 133.9 308.5 134.1 309.0 134.5 309.2 137.1 309.9 144.4 310.8 147.6 311.6 149.4 312.4 150.8 313.5 151.8 314.7 152.3 316.0 152.3 317.0 152.0 318.0 151.4 319.0 150.4 319.9 147.9 321.3 144.6 322.1 132.9 323.1 128.9 323.2 126.4 323.0 123.9 322.5 121.7 321.8ZM143.4 306.0 142.9 306.1 142.6 306.0 142.4 305.5 142.6 305.0 143.1 304.9 143.5 305.2 143.6 305.7Z"/>
<path fill="#3a56bd" fill-rule="evenodd" d="M132.1 305.8 131.7 305.7 131.7 305.5 131.9 305.3 132.3 305.5ZM119.9 319.5 119.9 313.1 121.4 312.1 123.2 311.3 125.2 310.8 127.9 310.3 130.6 310.1 132.9 310.3 144.6 312.7 146.4 313.3 147.9 314.2 148.8 315.2 149.1 316.2 149.0 317.2 148.5 318.2 147.4 319.1 145.9 319.9 143.1 320.6 133.4 322.1 129.1 322.3 125.4 321.9 122.2 320.9Z"/>
<path fill="#4a86d6" fill-rule="evenodd" d="M142.5 316.5 142.2 317.2 141.4 318.0 137.9 319.6 133.6 320.8 129.6 321.1 126.2 320.7 123.1 319.7 122.0 319.0 121.2 318.2 120.6 317.2 120.4 316.2 120.6 315.2 121.3 314.2 122.2 313.5 123.4 312.7 126.4 311.8 130.1 311.4 133.9 311.8 137.9 313.1 141.5 315.0 142.3 315.7Z"/>
<path fill="#6cc0ea" fill-rule="evenodd" d="M122.0 316.2 122.2 315.5 122.6 314.7 123.4 314.0 124.4 313.3 126.9 312.5 129.9 312.2 133.1 312.6 135.9 313.4 137.9 314.7 138.5 315.5 138.7 316.2 138.5 317.0 138.0 317.7 136.0 319.0 133.1 319.9 129.9 320.2 126.9 319.9 124.4 319.1 123.4 318.5 122.6 317.7 122.2 317.0Z"/>
<path fill="#93c842" fill-rule="evenodd" d="M137.2 316.2 137.0 317.0 136.6 317.5 134.9 318.6 132.6 319.3 129.9 319.6 127.4 319.4 125.2 318.6 123.6 317.5 123.1 316.2 123.5 315.0 125.1 313.7 127.2 313.0 129.9 312.7 132.9 313.0 135.1 313.8 136.7 315.0 137.1 315.5Z"/>
<path fill="#f0e01e" fill-rule="evenodd" d="M133.9 316.0 133.6 316.7 132.6 317.3 131.4 317.7 129.9 317.8 128.4 317.6 127.2 317.2 126.5 316.7 126.2 316.0 126.5 315.2 127.4 314.6 128.6 314.2 130.1 314.1 131.6 314.3 132.9 314.7 133.6 315.2Z"/>
<path fill="#f4a81c" fill-rule="evenodd" d="M133.2 316.0 133.0 316.5 132.4 317.0 131.4 317.3 130.1 317.4 128.9 317.3 127.9 317.0 127.2 316.5 126.9 316.0 127.2 315.4 127.9 314.8 128.9 314.5 130.1 314.4 131.4 314.6 132.4 314.9 133.1 315.5Z"/>
<path fill="#e2201b" fill-rule="evenodd" d="M132.6 316.0 132.4 316.5 131.9 316.8 130.1 317.1 128.4 316.9 127.7 316.5 127.5 316.0 127.7 315.5 128.4 315.0 130.1 314.7 131.9 315.1 132.5 315.5Z"/>
<path d="M132.6 291.6H159.6V311.8H132.6Z" stroke="#8a8a8a" stroke-width="0.60" fill="none"/>
<text x="141.6" y="287.2" font-size="5.30" text-anchor="start" fill="#3a3a3a" textLength="10.4" lengthAdjust="spacingAndGlyphs">2.04</text>
<text transform="translate(111.0 302.7) rotate(-90)" x="0" y="0" font-size="8.40" text-anchor="middle" fill="#222" textLength="9.0" lengthAdjust="spacingAndGlyphs" stroke="#222" stroke-width="0.3">CD5</text>
<text x="142.6" y="337.4" font-size="8.40" text-anchor="middle" fill="#222" textLength="9.5" lengthAdjust="spacingAndGlyphs" stroke="#222" stroke-width="0.3">CD7</text>
<rect x="183.4" y="279.2" width="45.7" height="46.0" fill="none" stroke="#dedede" stroke-width="0.6"/>
<path d="M183.4 316.0h1.2M192.5 325.2v-1.2M183.4 306.8h1.2M201.7 325.2v-1.2M183.4 297.6h1.2M210.8 325.2v-1.2M183.4 288.4h1.2M220.0 325.2v-1.2" stroke="#bbb" stroke-width="0.5" fill="none"/>
<path d="M181.4 328.0V281.0" stroke="#222" stroke-width="1.1" fill="none"/>
<path d="M180.1 281.7L181.4 278.5L182.7 281.7Z" fill="#111"/>
<path d="M180.9 327.6H227.0" stroke="#222" stroke-width="1.1" fill="none"/>
<path d="M226.3 326.3L229.5 327.6L226.3 328.9Z" fill="#111"/>
<path fill="#2f3c9c" fill-rule="evenodd" d="M212.1 323.7 211.4 324.3 209.2 325.0 208.9 325.2 206.7 325.2 204.1 322.1 203.1 321.4 202.4 321.9 200.1 325.2 183.4 325.3 183.2 323.5 183.2 304.2 183.4 302.7 193.4 302.6 199.9 302.7 201.6 303.0 205.8 304.5 210.6 304.9 212.6 305.4 213.2 306.0 214.7 309.2 214.9 310.2 212.5 322.7Z"/>
<path fill="#3a56bd" fill-rule="evenodd" d="M183.4 324.5 183.2 305.0 183.4 303.2 187.4 303.0 199.6 303.1 201.4 303.5 205.6 305.1 211.6 305.7 212.4 306.0 212.9 306.7 214.1 309.5 214.2 310.5 211.9 322.5 211.6 323.2 211.1 323.7 208.6 324.2 207.1 324.3 206.4 323.7 203.9 321.0 203.1 320.6 202.4 321.0 199.9 324.2 198.9 324.7 188.9 324.9 185.1 324.8Z"/>
<path fill="#4a86d6" fill-rule="evenodd" d="M197.2 320.7 196.1 321.3 194.6 321.9 192.9 322.2 190.9 322.3 188.9 322.2 187.1 321.8 185.6 321.2 185.0 320.7 184.6 319.7 184.6 317.7 183.9 317.0 183.4 316.8 183.3 310.5 183.4 304.1 186.4 303.8 198.1 303.8 199.9 304.0 201.1 304.7 202.0 306.5 202.5 309.0 201.6 314.7 201.1 315.7 200.4 316.5 197.8 318.0 197.7 318.5 197.8 319.7Z"/>
<path fill="#6cc0ea" fill-rule="evenodd" d="M200.3 314.5 199.6 315.2 198.6 315.7 193.1 316.1 186.4 315.9 185.1 315.7 183.4 315.1 183.4 305.2 185.9 304.6 191.6 304.5 197.6 304.5 199.6 304.9 200.3 305.5 200.7 306.2 201.3 308.7 201.2 310.5Z"/>
<path fill="#93c842" fill-rule="evenodd" d="M200.7 310.0 199.6 313.7 198.9 314.5 197.9 314.8 191.9 315.1 186.6 314.9 184.9 314.5 183.4 313.1 183.4 307.6 184.6 306.1 186.1 305.5 193.6 305.0 197.1 305.1 198.6 305.4 199.6 306.0 200.2 307.0 200.7 308.5Z"/>
<path fill="#f0e01e" fill-rule="evenodd" d="M197.9 309.5 197.5 310.5 196.4 311.3 194.6 312.0 192.9 312.3 190.9 312.2 189.1 311.8 188.1 311.1 187.7 310.2 188.1 309.2 189.1 308.3 190.6 307.7 192.6 307.3 194.6 307.4 196.4 307.8 197.4 308.5Z"/>
<path fill="#f4a81c" fill-rule="evenodd" d="M196.9 309.5 196.7 310.2 195.8 311.0 194.4 311.5 192.9 311.8 191.4 311.8 190.0 311.5 189.1 311.0 188.7 310.2 188.9 309.5 189.7 308.7 190.9 308.2 192.6 307.8 194.1 307.8 195.6 308.2 196.5 308.7Z"/>
<path fill="#e2201b" fill-rule="evenodd" d="M196.1 309.5 195.9 310.2 195.3 310.7 193.1 311.4 191.9 311.4 190.7 311.2 189.8 310.7 189.5 310.2 189.7 309.5 190.2 309.0 191.1 308.5 192.4 308.2 193.6 308.2 194.9 308.4 195.8 309.0Z"/>
<path d="M183.6 304.8H201.8V322.5M201.8 304.8L214.2 286.8M194.8 286.8H220.5V322.5M201.8 304.8H220.5" stroke="#8a8a8a" stroke-width="0.60" fill="none"/>
<text x="184.8" y="286.8" font-size="5.30" text-anchor="start" fill="#3a3a3a" textLength="10.0" lengthAdjust="spacingAndGlyphs">1.87</text>
<text x="218.4" y="286.8" font-size="5.30" text-anchor="start" fill="#3a3a3a" textLength="10.4" lengthAdjust="spacingAndGlyphs">0.19</text>
<rect x="184.7" y="318.1" width="14.0" height="4.9" fill="#fff" fill-opacity="0.82"/>
<text x="185.1" y="322.2" font-size="5.30" text-anchor="start" fill="#3a3a3a" textLength="13.2" lengthAdjust="spacingAndGlyphs">89.51</text>
<text x="219.0" y="322.2" font-size="5.30" text-anchor="start" fill="#3a3a3a" textLength="9.8" lengthAdjust="spacingAndGlyphs">7.26</text>
<text transform="translate(176.6 301.8) rotate(-90)" x="0" y="0" font-size="8.40" text-anchor="middle" fill="#222" textLength="12.8" lengthAdjust="spacingAndGlyphs" stroke="#222" stroke-width="0.3">CD1a</text>
<text x="206.0" y="337.4" font-size="8.40" text-anchor="middle" fill="#222" textLength="9.5" lengthAdjust="spacingAndGlyphs" stroke="#222" stroke-width="0.3">CD7</text>
<rect x="248.0" y="279.2" width="46.5" height="46.0" fill="none" stroke="#dedede" stroke-width="0.6"/>
<path d="M248.0 316.0h1.2M257.3 325.2v-1.2M248.0 306.8h1.2M266.6 325.2v-1.2M248.0 297.6h1.2M275.9 325.2v-1.2M248.0 288.4h1.2M285.2 325.2v-1.2" stroke="#bbb" stroke-width="0.5" fill="none"/>
<path d="M244.8 328.0V281.0" stroke="#222" stroke-width="1.1" fill="none"/>
<path d="M243.5 281.7L244.8 278.5L246.1 281.7Z" fill="#111"/>
<path d="M244.3 327.6H291.3" stroke="#222" stroke-width="1.1" fill="none"/>
<path d="M290.6 326.3L293.8 327.6L290.6 328.9Z" fill="#111"/>
<path fill="#2f3c9c" fill-rule="evenodd" d="M263.8 322.3 261.8 322.2 259.8 321.6 258.0 320.6 256.5 319.4 255.2 318.0 254.1 316.2 253.4 314.2 253.0 312.0 253.0 310.0 253.4 308.0 254.3 306.0 255.6 304.0 257.0 302.4 258.5 301.3 260.2 300.5 262.2 300.1 264.0 300.2 265.8 300.7 267.0 301.5 268.1 302.7 268.9 304.5 269.5 307.2 270.7 311.0 271.1 313.2 271.0 315.0 270.6 316.7 270.0 318.2 269.2 319.5 268.0 320.6 266.8 321.4 265.2 322.0Z"/>
<path fill="#3a56bd" fill-rule="evenodd" d="M263.5 321.0 261.8 320.9 260.2 320.5 258.8 319.8 257.2 318.6 256.0 317.2 255.1 315.7 254.4 313.7 254.1 312.0 254.2 310.0 254.6 308.2 255.5 306.5 256.6 304.7 258.0 303.2 259.2 302.2 260.8 301.5 262.2 301.2 263.8 301.3 265.0 301.7 266.2 302.5 267.1 303.5 267.6 304.5 268.2 307.2 269.5 310.7 269.9 313.0 269.9 314.5 269.6 316.0 269.1 317.2 268.4 318.5 267.4 319.5 266.2 320.3 265.0 320.8Z"/>
<path fill="#4a86d6" fill-rule="evenodd" d="M263.2 319.4 261.8 319.3 260.5 318.9 259.2 318.3 258.0 317.3 257.1 316.2 256.4 315.0 255.8 313.5 255.6 312.0 255.7 310.5 256.1 309.0 256.7 307.7 257.7 306.2 260.0 303.9 261.2 303.2 262.5 303.0 264.2 303.4 265.0 304.0 265.5 304.7 267.9 310.7 268.4 313.0 268.1 315.5 267.0 317.5 266.2 318.2 265.2 318.9Z"/>
<path fill="#6cc0ea" fill-rule="evenodd" d="M263.0 318.2 261.8 318.1 260.8 317.8 258.8 316.5 257.3 314.5 256.7 312.2 257.0 310.0 258.0 308.0 260.2 305.8 262.0 305.0 263.2 305.3 264.2 306.3 266.6 310.2 267.2 312.7 267.1 314.7 266.2 316.5 264.8 317.7Z"/>
<path fill="#93c842" fill-rule="evenodd" d="M263.2 317.4 261.2 317.3 259.5 316.3 258.2 314.7 257.5 312.7 257.6 310.7 258.3 309.0 259.8 307.6 261.5 306.8 262.8 307.0 264.2 308.2 265.7 310.2 266.4 312.2 266.4 314.2 265.8 315.7 264.8 316.8Z"/>
<path fill="#f0e01e" fill-rule="evenodd" d="M263.0 315.1 262.2 315.2 261.2 315.0 260.4 314.5 259.7 313.5 259.5 312.5 259.6 311.5 260.1 310.7 260.8 310.2 261.5 310.0 262.5 310.1 263.4 310.7 264.1 311.7 264.4 312.7 264.3 313.7 263.8 314.6Z"/>
<path fill="#f4a81c" fill-rule="evenodd" d="M262.8 314.7 262.0 314.7 261.2 314.5 260.2 313.5 260.0 312.5 260.1 311.7 260.5 311.0 261.0 310.6 261.8 310.5 262.5 310.7 263.2 311.2 263.7 312.0 263.9 313.0 263.8 313.7 263.4 314.2Z"/>
<path fill="#e2201b" fill-rule="evenodd" d="M262.8 314.2 262.2 314.4 261.5 314.2 260.6 313.5 260.3 312.2 260.5 311.7 261.0 311.1 261.5 310.9 262.2 311.0 262.9 311.5 263.3 312.0 263.5 313.2 263.2 313.8Z"/>
<path d="M267.4 278.5V324.7M248 306.6H267.4M267.4 309.7H294.5" stroke="#8a8a8a" stroke-width="0.60" fill="none"/>
<text x="249.8" y="285.8" font-size="5.30" text-anchor="start" fill="#3a3a3a" textLength="10.7" lengthAdjust="spacingAndGlyphs">6.38</text>
<text x="277.9" y="285.8" font-size="5.30" text-anchor="start" fill="#3a3a3a" textLength="10.4" lengthAdjust="spacingAndGlyphs">2.75</text>
<rect x="249.4" y="317.4" width="14.3" height="4.9" fill="#fff" fill-opacity="0.82"/>
<text x="249.8" y="321.5" font-size="5.30" text-anchor="start" fill="#3a3a3a" textLength="13.5" lengthAdjust="spacingAndGlyphs">86.18</text>
<text x="278.4" y="321.5" font-size="5.30" text-anchor="start" fill="#3a3a3a" textLength="9.7" lengthAdjust="spacingAndGlyphs">4.69</text>
<text transform="translate(240.4 302.5) rotate(-90)" x="0" y="0" font-size="8.40" text-anchor="middle" fill="#222" textLength="9.5" lengthAdjust="spacingAndGlyphs" stroke="#222" stroke-width="0.3">CD4</text>
<text x="270.0" y="337.4" font-size="8.40" text-anchor="middle" fill="#222" textLength="13.9" lengthAdjust="spacingAndGlyphs" stroke="#222" stroke-width="0.3">CD8&#946;</text>
<rect x="312.0" y="279.2" width="46.8" height="46.0" fill="none" stroke="#dedede" stroke-width="0.6"/>
<path d="M312.0 316.0h1.2M321.4 325.2v-1.2M312.0 306.8h1.2M330.7 325.2v-1.2M312.0 297.6h1.2M340.1 325.2v-1.2M312.0 288.4h1.2M349.4 325.2v-1.2" stroke="#bbb" stroke-width="0.5" fill="none"/>
<path d="M309.6 328.0V281.0" stroke="#222" stroke-width="1.1" fill="none"/>
<path d="M308.3 281.7L309.6 278.5L310.9 281.7Z" fill="#111"/>
<path d="M309.1 327.6H355.6" stroke="#222" stroke-width="1.1" fill="none"/>
<path d="M354.9 326.3L358.1 327.6L354.9 328.9Z" fill="#111"/>
<path fill="#2f3c9c" fill-rule="evenodd" d="M340.1 320.0 339.1 321.5 336.8 323.9 335.8 324.4 332.8 325.2 327.2 325.1 321.8 324.4 318.5 324.3 315.0 323.8 314.2 323.4 312.5 321.8 312.0 321.6 311.9 316.2 312.0 310.6 321.8 307.7 327.5 305.3 329.8 304.6 333.5 304.2 336.0 304.8 338.0 305.6 339.0 306.4 339.4 307.2 340.3 310.2 340.8 313.0 340.5 317.2Z"/>
<path fill="#3a56bd" fill-rule="evenodd" d="M339.6 319.5 338.8 321.0 336.5 323.3 335.5 323.8 333.0 324.3 331.2 324.4 326.8 324.3 315.5 323.3 314.3 322.7 312.0 320.4 312.0 311.7 313.8 310.6 322.0 308.2 328.8 305.6 332.8 304.9 335.0 305.1 338.0 306.3 338.7 307.0 339.1 308.0 340.2 312.5 340.0 317.0Z"/>
<path fill="#4a86d6" fill-rule="evenodd" d="M338.9 313.0 338.7 317.0 338.4 318.7 338.0 319.8 336.7 321.5 335.6 322.5 334.8 322.8 332.8 323.3 330.2 323.4 326.7 323.0 320.5 320.5 319.0 319.7 317.8 318.7 317.1 317.7 316.7 316.5 316.8 315.2 317.2 314.2 317.9 313.2 318.8 312.4 322.5 310.4 325.2 308.5 326.9 307.5 328.8 306.7 331.0 306.1 332.8 306.0 334.0 306.1 335.7 306.7 336.8 307.5 337.4 308.2 338.0 309.5 338.6 311.5Z"/>
<path fill="#6cc0ea" fill-rule="evenodd" d="M331.0 321.7 329.2 321.3 327.0 320.0 323.5 317.2 323.0 316.5 322.9 315.7 323.6 314.5 328.0 309.1 329.8 307.9 331.8 307.5 332.8 307.7 333.8 308.2 334.7 309.0 335.4 310.0 336.5 312.5 336.7 315.2 336.1 318.0 334.9 320.0 334.0 320.8 333.0 321.4Z"/>
<path fill="#93c842" fill-rule="evenodd" d="M331.2 320.2 329.8 319.9 328.0 318.7 326.6 317.0 326.2 315.5 326.7 313.5 328.4 310.5 330.0 309.0 331.0 308.6 331.8 308.6 333.2 309.1 334.6 310.5 335.5 312.5 335.7 314.7 335.3 317.0 334.3 318.7 333.0 319.8Z"/>
<path fill="#f0e01e" fill-rule="evenodd" d="M331.8 317.0 331.0 316.9 330.2 316.2 329.8 315.2 329.6 314.2 329.8 313.0 330.2 312.0 331.0 311.2 331.8 311.0 332.5 311.3 333.2 312.0 333.6 313.0 333.7 314.0 333.6 315.0 333.2 316.0 332.5 316.8Z"/>
<path fill="#f4a81c" fill-rule="evenodd" d="M331.8 316.4 331.0 316.2 330.5 315.7 330.2 315.0 330.0 314.0 330.2 313.0 330.6 312.2 331.2 311.7 331.8 311.6 332.2 311.7 332.8 312.2 333.2 313.0 333.4 314.0 333.2 315.0 332.9 315.7 332.4 316.2Z"/>
<path fill="#e2201b" fill-rule="evenodd" d="M331.8 315.9 331.2 315.8 330.8 315.4 330.4 314.0 330.8 312.6 331.2 312.1 331.8 312.0 332.2 312.1 332.8 312.7 333.1 314.0 332.8 315.2 332.2 315.8Z"/>
<path d="M338.7 308L351.2 290.5L354.9 292.8L341.9 313.8Z" stroke="#777" stroke-width="0.6" fill="none"/>
<text x="334.5" y="293.0" font-size="5.30" text-anchor="start" fill="#3a3a3a" textLength="10.4" lengthAdjust="spacingAndGlyphs">0.07</text>
<text transform="translate(305.0 304.4) rotate(-90)" x="0" y="0" font-size="8.40" text-anchor="middle" fill="#222" textLength="18.5" lengthAdjust="spacingAndGlyphs" stroke="#222" stroke-width="0.3">TCR&#945;&#946;</text>
<text x="334.0" y="337.4" font-size="8.40" text-anchor="middle" fill="#222" textLength="9.5" lengthAdjust="spacingAndGlyphs" stroke="#222" stroke-width="0.3">CD3</text>
<rect x="51.8" y="390.0" width="47.2" height="46.3" fill="none" stroke="#dedede" stroke-width="0.6"/>
<path d="M51.8 427.0h1.2M61.2 436.3v-1.2M51.8 417.8h1.2M70.7 436.3v-1.2M51.8 408.5h1.2M80.1 436.3v-1.2M51.8 399.3h1.2M89.6 436.3v-1.2" stroke="#bbb" stroke-width="0.5" fill="none"/>
<path d="M50.0 438.5V391.7" stroke="#222" stroke-width="1.1" fill="none"/>
<path d="M48.7 392.4L50.0 389.2L51.3 392.4Z" fill="#111"/>
<path d="M49.5 438.1H96.6" stroke="#222" stroke-width="1.1" fill="none"/>
<path d="M95.9 436.8L99.1 438.1L95.9 439.4Z" fill="#111"/>
<path fill="#2f3c9c" fill-rule="evenodd" d="M63.3 433.8 62.3 433.6 59.9 432.2 56.0 431.5 55.2 431.0 54.7 429.8 54.6 423.0 54.7 402.5 54.8 401.0 55.2 400.2 56.0 399.7 62.0 397.3 63.3 397.1 67.6 398.1 71.1 398.2 72.1 398.4 72.6 398.8 73.2 399.5 73.6 400.5 73.8 401.5 72.2 417.0 71.6 424.8 71.2 427.0 70.4 428.5 68.3 431.3 64.3 433.5Z"/>
<path fill="#3a56bd" fill-rule="evenodd" d="M56.0 430.8 55.5 430.4 55.3 429.8 55.1 423.8 55.3 402.5 55.5 401.0 56.3 400.3 59.3 399.1 62.8 398.3 64.3 398.3 67.8 398.8 70.8 398.8 71.8 399.0 72.3 399.3 72.8 400.0 73.2 401.8 71.6 417.0 71.1 424.8 70.5 427.2 68.3 430.5 67.6 431.1 66.3 431.5 64.3 432.0 62.8 432.0Z"/>
<path fill="#4a86d6" fill-rule="evenodd" d="M63.0 430.9 61.5 430.7 60.0 430.3 58.9 429.8 58.3 429.2 57.3 427.8 56.6 426.2 56.2 424.5 56.1 422.8 56.9 417.2 57.4 408.5 57.9 405.2 58.7 402.2 59.3 401.0 60.2 400.2 61.7 399.8 63.8 399.5 65.5 399.8 66.9 400.5 67.4 401.5 68.2 404.0 68.9 407.5 69.3 411.0 69.6 422.5 69.4 424.5 69.0 426.2 67.3 429.5 66.7 430.0 65.6 430.5Z"/>
<path fill="#6cc0ea" fill-rule="evenodd" d="M63.0 429.3 62.0 429.2 61.0 428.8 59.0 427.2 57.7 425.2 57.3 423.0 57.5 421.2 58.7 418.2 59.0 417.0 59.0 410.8 59.4 408.0 60.3 406.0 61.3 404.3 62.3 403.3 63.3 403.0 64.3 403.5 65.3 404.7 66.2 406.5 66.9 408.5 67.2 411.2 67.4 418.0 68.0 422.8 67.6 425.0 66.6 427.1 64.8 428.8 64.1 429.2Z"/>
<path fill="#93c842" fill-rule="evenodd" d="M62.8 428.2 61.0 427.8 59.3 426.5 58.2 424.8 57.9 423.0 58.2 421.2 59.6 418.2 60.1 416.8 60.1 415.2 59.7 411.2 60.0 408.8 60.5 407.5 61.3 406.3 62.3 405.6 63.0 405.4 64.1 405.7 64.8 406.3 65.6 407.5 66.1 409.0 66.4 411.2 66.3 417.2 67.1 421.2 67.3 422.8 67.0 424.8 66.0 426.5 64.6 427.8Z"/>
<path fill="#f0e01e" fill-rule="evenodd" d="M63.0 413.1 62.5 413.0 62.0 412.5 61.6 411.8 61.4 410.8 61.8 409.2 62.3 408.7 63.0 408.4 63.5 408.6 64.1 409.1 64.4 409.8 64.5 410.8 64.4 411.8 64.1 412.4 63.5 412.9ZM62.5 425.9 61.5 425.7 60.6 425.0 60.0 424.0 59.9 423.0 60.1 421.8 60.8 420.8 61.8 420.0 62.8 419.8 63.8 420.1 64.6 420.8 65.1 421.8 65.3 423.0 65.1 424.0 64.5 425.0 63.5 425.7Z"/>
<path fill="#f4a81c" fill-rule="evenodd" d="M63.0 412.3 62.3 412.0 61.8 410.8 62.0 409.7 62.8 409.1 63.5 409.3 64.1 410.5 63.8 411.8ZM62.5 425.4 61.8 425.2 61.0 424.7 60.5 424.0 60.3 423.0 60.5 422.0 61.1 421.2 61.8 420.7 62.8 420.5 63.5 420.7 64.2 421.2 64.6 422.0 64.8 423.0 64.6 424.0 64.1 424.8 63.3 425.2Z"/>
<path fill="#e2201b" fill-rule="evenodd" d="M63.0 411.6 62.5 411.4 62.3 410.8 62.5 410.0 62.8 409.7 63.3 409.9 63.6 410.5 63.5 411.2ZM62.8 424.9 62.0 424.9 61.4 424.5 61.0 424.0 60.7 423.2 60.8 422.5 61.2 421.8 61.8 421.2 62.5 421.0 63.3 421.1 63.8 421.5 64.4 422.8 64.3 423.5 64.0 424.2 63.3 424.8Z"/>
<path d="M53 397.8H72.4V414.1H53M72.4 413.4H96V432.9H72.4M53 414.1V433.5H72.4V413.4" stroke="#8a8a8a" stroke-width="0.60" fill="none"/>
<text x="55.8" y="397.2" font-size="5.30" text-anchor="start" fill="#3a3a3a" textLength="13.9" lengthAdjust="spacingAndGlyphs">41.05</text>
<text x="83.5" y="420.4" font-size="5.30" text-anchor="start" fill="#3a3a3a" textLength="10.4" lengthAdjust="spacingAndGlyphs">0.13</text>
<rect x="53.3" y="427.8" width="14.7" height="4.9" fill="#fff" fill-opacity="0.82"/>
<text x="53.7" y="431.9" font-size="5.30" text-anchor="start" fill="#3a3a3a" textLength="13.9" lengthAdjust="spacingAndGlyphs">57.29</text>
<text transform="translate(45.4 413.4) rotate(-90)" x="0" y="0" font-size="8.40" text-anchor="middle" fill="#222" textLength="12.5" lengthAdjust="spacingAndGlyphs" stroke="#222" stroke-width="0.3">CD34</text>
<text x="75.2" y="448.2" font-size="8.40" text-anchor="middle" fill="#222" textLength="12.4" lengthAdjust="spacingAndGlyphs" stroke="#222" stroke-width="0.3">CD19</text>
<rect x="119.9" y="390.0" width="45.3" height="46.3" fill="none" stroke="#dedede" stroke-width="0.6"/>
<path d="M119.9 427.0h1.2M129.0 436.3v-1.2M119.9 417.8h1.2M138.0 436.3v-1.2M119.9 408.5h1.2M147.1 436.3v-1.2M119.9 399.3h1.2M156.1 436.3v-1.2" stroke="#bbb" stroke-width="0.5" fill="none"/>
<path d="M117.8 438.5V391.7" stroke="#222" stroke-width="1.1" fill="none"/>
<path d="M116.5 392.4L117.8 389.2L119.1 392.4Z" fill="#111"/>
<path d="M117.3 438.1H162.7" stroke="#222" stroke-width="1.1" fill="none"/>
<path d="M162.0 436.8L165.2 438.1L162.0 439.4Z" fill="#111"/>
<path fill="#2f3c9c" fill-rule="evenodd" d="M125.1 430.0 124.3 428.2 123.4 424.8 123.4 421.8 123.9 417.0 124.2 416.0 124.6 415.2 127.4 412.5 129.4 411.4 139.6 407.1 150.9 403.9 152.4 403.6 153.4 403.8 154.9 404.5 156.0 405.5 156.4 406.2 156.6 407.2 156.5 408.8 156.1 410.5 154.7 412.5 151.6 415.6 141.9 422.5 134.4 428.6 130.6 430.9 129.4 431.4 128.1 431.5 126.2 430.8Z"/>
<path fill="#3a56bd" fill-rule="evenodd" d="M125.8 429.5 125.1 428.2 124.2 424.5 124.2 421.8 124.9 416.5 125.3 415.8 127.8 413.2 129.5 412.2 139.9 407.8 146.9 405.6 152.4 404.4 153.6 404.7 155.2 405.8 155.6 406.5 155.8 407.2 155.4 410.2 154.2 412.0 151.3 415.0 141.0 422.2 134.4 427.6 131.4 429.5 129.6 430.5 128.6 430.7 126.9 430.2Z"/>
<path fill="#4a86d6" fill-rule="evenodd" d="M128.4 422.2 128.1 421.2 128.2 420.2 128.8 419.0 129.8 417.5 131.4 415.8 133.6 413.8 137.9 410.9 142.6 408.6 147.9 407.1 149.9 406.9 151.4 407.0 152.6 407.4 153.3 408.0 153.5 409.0 153.4 410.0 152.7 411.2 151.6 412.8 148.5 415.5 143.9 418.6 139.4 420.8 132.6 423.3 131.4 423.5 130.1 423.4 129.1 423.0Z"/>
<path fill="#6cc0ea" fill-rule="evenodd" d="M132.9 419.2 132.7 418.5 132.9 417.8 134.2 415.5 136.5 413.2 138.9 411.6 142.1 410.2 145.6 409.4 148.1 409.3 149.1 409.6 149.6 410.1 149.8 410.8 149.7 411.5 148.5 413.5 146.2 415.8 143.4 417.7 140.1 419.1 136.6 419.9 134.1 420.0 133.4 419.7Z"/>
<path fill="#93c842" fill-rule="evenodd" d="M134.9 418.0 134.8 417.5 134.8 416.8 135.7 415.0 137.4 413.2 139.4 411.9 141.9 410.9 144.4 410.4 146.4 410.5 147.1 410.8 147.6 411.2 147.8 411.8 147.7 412.5 146.6 414.2 144.9 416.0 142.9 417.3 140.4 418.3 137.9 418.8 135.9 418.7Z"/>
<path fill="#f0e01e" fill-rule="evenodd" d="M138.1 416.2 138.0 415.5 138.2 414.8 138.8 414.0 139.9 413.2 141.1 412.7 142.4 412.4 143.4 412.6 144.0 413.0 144.2 413.8 143.9 414.5 143.3 415.2 142.1 416.1 140.9 416.6 139.9 416.8 138.9 416.7Z"/>
<path fill="#f4a81c" fill-rule="evenodd" d="M138.6 415.8 138.5 415.2 138.9 414.5 139.6 413.8 140.5 413.2 142.4 412.8 143.1 413.1 143.5 413.5 143.6 414.0 143.2 414.8 141.6 415.9 140.6 416.3 139.6 416.4 138.9 416.1Z"/>
<path fill="#e2201b" fill-rule="evenodd" d="M139.0 415.5 139.0 415.0 139.3 414.5 140.6 413.5 142.1 413.2 142.6 413.3 143.1 413.8 143.1 414.2 142.8 414.8 141.4 415.8 139.9 416.0 139.4 415.9Z"/>
<path d="M132.6 402.3H159.6V421.8H132.6Z" stroke="#8a8a8a" stroke-width="0.60" fill="none"/>
<text x="140.2" y="397.8" font-size="5.30" text-anchor="start" fill="#3a3a3a" textLength="13.2" lengthAdjust="spacingAndGlyphs">87.92</text>
<text transform="translate(111.0 413.6) rotate(-90)" x="0" y="0" font-size="8.40" text-anchor="middle" fill="#222" textLength="9.0" lengthAdjust="spacingAndGlyphs" stroke="#222" stroke-width="0.3">CD5</text>
<text x="142.6" y="448.2" font-size="8.40" text-anchor="middle" fill="#222" textLength="9.5" lengthAdjust="spacingAndGlyphs" stroke="#222" stroke-width="0.3">CD7</text>
<rect x="183.4" y="390.0" width="45.7" height="46.3" fill="none" stroke="#dedede" stroke-width="0.6"/>
<path d="M183.4 427.0h1.2M192.5 436.3v-1.2M183.4 417.8h1.2M201.7 436.3v-1.2M183.4 408.5h1.2M210.8 436.3v-1.2M183.4 399.3h1.2M220.0 436.3v-1.2" stroke="#bbb" stroke-width="0.5" fill="none"/>
<path d="M181.4 438.5V391.7" stroke="#222" stroke-width="1.1" fill="none"/>
<path d="M180.1 392.4L181.4 389.2L182.7 392.4Z" fill="#111"/>
<path d="M180.9 438.1H227.0" stroke="#222" stroke-width="1.1" fill="none"/>
<path d="M226.3 436.8L229.5 438.1L226.3 439.4Z" fill="#111"/>
<path fill="#2f3c9c" fill-rule="evenodd" d="M191.4 431.1 189.6 429.8 189.2 429.0 188.6 421.0 188.7 413.5 188.8 412.5 189.1 411.8 189.9 411.0 193.6 408.4 205.6 402.1 208.9 400.8 209.9 400.7 210.9 401.1 212.2 402.2 213.5 404.0 216.6 412.2 217.3 414.8 218.3 419.5 218.9 423.8 218.3 429.0 217.9 430.2 216.9 431.1 213.9 432.2 211.1 432.9 208.9 433.2 195.4 432.8 193.9 432.4Z"/>
<path fill="#3a56bd" fill-rule="evenodd" d="M193.1 431.4 190.4 429.6 190.0 429.0 189.7 428.2 189.2 421.2 189.3 414.0 189.4 412.8 189.6 412.1 193.4 409.0 201.9 404.4 208.4 401.4 209.6 401.2 210.6 401.4 212.1 402.8 213.0 404.2 216.0 412.5 216.7 415.0 217.8 420.0 218.3 423.8 217.8 428.8 217.5 429.8 216.9 430.4 215.6 430.9 211.9 432.1 209.1 432.6 195.9 432.3 194.6 432.1Z"/>
<path fill="#4a86d6" fill-rule="evenodd" d="M194.5 430.8 193.0 429.8 192.2 428.8 190.7 423.2 190.6 420.8 190.7 418.5 191.1 416.3 192.1 414.5 191.9 412.2 192.2 411.2 193.0 410.2 193.9 409.5 202.4 404.8 208.1 402.2 209.4 401.9 210.4 402.2 211.4 403.2 212.0 404.8 212.0 405.8 211.4 408.0 211.4 409.0 213.4 410.8 214.4 412.2 215.4 414.6 216.1 417.5 216.6 420.3 216.8 423.2 216.0 427.2 215.9 429.0 215.1 429.8 213.1 430.8 210.6 431.5 209.1 431.7 205.4 431.8 195.6 431.1Z"/>
<path fill="#6cc0ea" fill-rule="evenodd" d="M205.7 430.5 204.4 430.2 203.6 429.8 203.7 429.2 204.7 428.2 204.9 427.5 204.6 426.8 202.9 424.0 202.1 421.8 202.1 419.8 202.9 416.8 202.8 416.0 202.1 415.6 201.1 415.3 197.1 415.4 195.9 415.1 195.1 414.7 194.3 413.8 193.6 412.5 193.4 411.5 193.6 410.8 194.4 410.0 201.4 405.9 207.1 403.2 208.4 402.7 209.4 402.7 210.1 403.0 210.6 403.5 210.9 404.2 210.9 405.0 210.3 407.0 208.4 410.8 208.2 412.0 208.6 412.6 210.4 413.2 211.4 413.8 213.0 415.5 213.8 417.0 214.2 418.5 214.4 420.2 214.4 421.8 214.0 423.2 213.5 424.8 211.4 427.8 210.8 429.2 210.4 429.8 209.5 430.2 208.4 430.5Z"/>
<path fill="#93c842" fill-rule="evenodd" d="M194.8 413.0 194.3 411.8 194.6 410.8 200.4 406.9 203.4 405.3 207.6 403.5 209.1 403.4 210.0 404.0 210.1 405.2 209.6 407.0 207.0 411.5 206.0 413.8 205.4 414.3 204.4 414.6 197.1 414.5 195.9 414.1ZM208.9 426.2 207.9 426.2 207.1 426.0 205.6 424.9 204.5 423.2 203.9 421.0 204.1 418.8 205.1 416.6 206.1 415.4 207.9 414.8 209.6 415.0 211.1 416.0 212.3 417.8 212.8 419.8 212.7 422.0 211.9 424.0 210.6 425.4Z"/>
<path fill="#f0e01e" fill-rule="evenodd" d="M199.3 411.2 199.3 410.5 199.8 409.5 200.8 408.5 202.4 407.4 203.9 406.7 205.4 406.3 206.4 406.3 207.1 406.8 207.2 407.5 206.6 408.8 205.5 410.0 204.1 410.9 202.6 411.6 201.1 411.9 199.9 411.8ZM207.6 421.0 207.5 420.5 207.9 420.4 208.0 420.8Z"/>
<path fill="#f4a81c" fill-rule="evenodd" d="M200.1 410.9 200.1 410.2 200.4 409.5 201.4 408.5 202.4 407.8 203.6 407.1 204.9 406.8 205.9 406.8 206.4 407.2 206.4 408.0 206.0 408.8 205.1 409.7 204.1 410.4 202.9 411.0 201.6 411.3 200.7 411.2Z"/>
<path fill="#e2201b" fill-rule="evenodd" d="M200.8 410.5 200.7 410.0 201.1 409.2 202.6 408.0 204.6 407.2 205.4 407.2 205.8 407.5 205.9 408.0 205.6 408.8 204.9 409.5 203.9 410.2 201.9 410.9 201.1 410.8Z"/>
<path d="M183.6 416.2H220.5M201.8 416.2V432.5M201.8 416.2L214.2 396.8M197.5 397.2H220.5V432.5" stroke="#8a8a8a" stroke-width="0.60" fill="none"/>
<text x="184.4" y="397.2" font-size="5.30" text-anchor="start" fill="#3a3a3a" textLength="13.9" lengthAdjust="spacingAndGlyphs">42.30</text>
<text x="214.9" y="397.2" font-size="5.30" text-anchor="start" fill="#3a3a3a" textLength="13.6" lengthAdjust="spacingAndGlyphs">13.03</text>
<rect x="184.4" y="428.1" width="14.0" height="4.9" fill="#fff" fill-opacity="0.82"/>
<text x="184.8" y="432.2" font-size="5.30" text-anchor="start" fill="#3a3a3a" textLength="13.2" lengthAdjust="spacingAndGlyphs">10.50</text>
<rect x="214.5" y="428.1" width="14.4" height="4.9" fill="#fff" fill-opacity="0.82"/>
<text x="214.9" y="432.2" font-size="5.30" text-anchor="start" fill="#3a3a3a" textLength="13.6" lengthAdjust="spacingAndGlyphs">34.10</text>
<text transform="translate(176.6 412.8) rotate(-90)" x="0" y="0" font-size="8.40" text-anchor="middle" fill="#222" textLength="12.8" lengthAdjust="spacingAndGlyphs" stroke="#222" stroke-width="0.3">CD1a</text>
<text x="206.0" y="448.2" font-size="8.40" text-anchor="middle" fill="#222" textLength="9.5" lengthAdjust="spacingAndGlyphs" stroke="#222" stroke-width="0.3">CD7</text>
<rect x="248.0" y="390.0" width="46.5" height="46.3" fill="none" stroke="#dedede" stroke-width="0.6"/>
<path d="M248.0 427.0h1.2M257.3 436.3v-1.2M248.0 417.8h1.2M266.6 436.3v-1.2M248.0 408.5h1.2M275.9 436.3v-1.2M248.0 399.3h1.2M285.2 436.3v-1.2" stroke="#bbb" stroke-width="0.5" fill="none"/>
<path d="M244.8 438.5V391.7" stroke="#222" stroke-width="1.1" fill="none"/>
<path d="M243.5 392.4L244.8 389.2L246.1 392.4Z" fill="#111"/>
<path d="M244.3 438.1H291.3" stroke="#222" stroke-width="1.1" fill="none"/>
<path d="M290.6 436.8L293.8 438.1L290.6 439.4Z" fill="#111"/>
<path fill="#2f3c9c" fill-rule="evenodd" d="M253.6 429.8 252.6 427.8 252.2 426.0 252.1 424.0 252.4 422.0 253.1 420.2 254.2 418.5 255.5 417.1 257.2 415.8 259.2 414.9 268.5 411.6 271.0 410.9 273.0 410.5 275.8 410.5 278.2 411.0 280.2 412.1 281.5 413.5 282.0 415.0 282.0 416.5 281.4 418.2 280.3 419.8 279.0 420.9 277.5 422.0 272.3 424.5 270.5 425.7 269.2 426.9 266.3 430.8 264.0 432.6 262.8 433.2 261.2 433.5 260.0 433.6 258.5 433.4 257.0 432.8 255.8 432.0 254.6 431.0Z"/>
<path fill="#3a56bd" fill-rule="evenodd" d="M254.4 429.0 253.7 427.5 253.2 425.8 253.2 424.2 253.4 422.5 254.0 420.8 255.0 419.2 256.2 418.0 257.5 417.0 259.8 416.1 264.5 414.8 269.8 412.3 273.0 411.5 275.2 411.4 277.5 411.8 279.2 412.8 280.4 414.0 280.8 415.2 280.8 416.8 280.2 418.2 279.2 419.5 277.8 420.7 276.2 421.6 271.1 423.5 269.7 424.2 268.5 425.6 265.8 429.8 264.8 430.8 263.5 431.7 262.2 432.2 261.0 432.5 259.8 432.5 258.5 432.3 256.2 431.1 255.2 430.2Z"/>
<path fill="#4a86d6" fill-rule="evenodd" d="M255.5 428.2 254.9 427.0 254.6 425.8 254.5 424.2 254.7 423.0 255.1 421.8 255.8 420.5 256.8 419.4 258.0 418.5 260.5 417.6 264.2 417.3 265.2 417.1 269.5 414.0 271.0 413.3 272.8 412.8 274.8 412.6 276.5 412.9 278.0 413.6 279.0 414.8 279.3 415.8 279.2 417.0 278.7 418.0 277.9 419.0 276.5 420.1 274.8 420.9 272.8 421.4 269.2 421.9 268.2 422.4 267.5 423.3 266.2 426.5 265.4 428.0 264.2 429.4 263.0 430.4 261.0 431.1 259.0 430.9 257.0 429.9Z"/>
<path fill="#6cc0ea" fill-rule="evenodd" d="M268.0 419.2 267.8 418.8 267.8 418.0 268.5 416.5 269.9 415.0 271.8 414.0 273.8 413.6 275.5 413.7 277.0 414.3 277.9 415.5 278.0 416.8 277.4 418.0 276.2 419.1 274.8 419.9 273.0 420.4 271.0 420.4 269.1 420.0ZM259.8 430.1 258.8 429.8 257.8 429.3 256.9 428.5 256.2 427.5 255.5 425.2 255.5 424.0 255.8 422.8 256.9 420.8 257.8 419.9 258.8 419.3 261.0 418.8 263.5 419.1 265.2 420.0 265.8 421.0 265.9 423.2 265.4 425.8 264.4 427.8 263.2 429.0 261.5 430.0Z"/>
<path fill="#93c842" fill-rule="evenodd" d="M269.6 418.5 269.4 417.5 269.9 416.2 271.0 415.2 272.2 414.6 273.8 414.3 275.2 414.4 276.5 415.0 277.0 415.8 277.1 416.8 276.6 417.8 275.8 418.6 274.5 419.3 273.0 419.6 271.5 419.6 270.2 419.2ZM260.2 429.5 258.5 429.0 257.1 427.8 256.3 426.0 256.2 424.0 256.8 422.2 258.0 420.7 259.5 419.8 261.5 419.6 263.0 420.1 264.2 421.1 264.9 422.5 264.9 424.5 264.4 426.5 263.2 428.2 261.8 429.2Z"/>
<path fill="#f0e01e" fill-rule="evenodd" d="M260.5 427.5 259.5 427.3 258.8 426.8 258.4 426.0 258.2 425.0 258.3 424.0 258.9 423.0 259.8 422.4 260.5 422.2 261.5 422.5 262.1 423.0 262.6 423.8 262.8 424.8 262.6 425.8 262.1 426.8 261.2 427.4Z"/>
<path fill="#f4a81c" fill-rule="evenodd" d="M260.5 427.1 259.8 426.9 259.2 426.5 258.7 425.8 258.6 425.0 258.7 424.2 259.1 423.5 259.8 423.0 260.5 422.8 261.2 423.0 261.9 423.5 262.2 424.2 262.3 425.0 262.2 425.8 261.8 426.5 261.2 426.9Z"/>
<path fill="#e2201b" fill-rule="evenodd" d="M260.5 426.7 260.0 426.6 259.5 426.2 259.1 425.8 259.0 425.0 259.4 423.8 260.0 423.3 260.5 423.2 261.0 423.3 261.6 423.8 262.0 425.0 261.5 426.2Z"/>
<path d="M266.3 390V436.3M248 419H266.3M266.3 420.4H294.5" stroke="#8a8a8a" stroke-width="0.60" fill="none"/>
<text x="249.4" y="397.2" font-size="5.30" text-anchor="start" fill="#3a3a3a" textLength="10.4" lengthAdjust="spacingAndGlyphs">3.84</text>
<text x="273.0" y="397.2" font-size="5.30" text-anchor="start" fill="#3a3a3a" textLength="13.9" lengthAdjust="spacingAndGlyphs">24.00</text>
<rect x="249.0" y="428.5" width="14.7" height="4.9" fill="#fff" fill-opacity="0.82"/>
<text x="249.4" y="432.6" font-size="5.30" text-anchor="start" fill="#3a3a3a" textLength="13.9" lengthAdjust="spacingAndGlyphs">67.15</text>
<text x="277.9" y="432.6" font-size="5.30" text-anchor="start" fill="#3a3a3a" textLength="10.4" lengthAdjust="spacingAndGlyphs">5.00</text>
<text transform="translate(240.4 413.4) rotate(-90)" x="0" y="0" font-size="8.40" text-anchor="middle" fill="#222" textLength="9.5" lengthAdjust="spacingAndGlyphs" stroke="#222" stroke-width="0.3">CD4</text>
<text x="270.0" y="448.2" font-size="8.40" text-anchor="middle" fill="#222" textLength="13.9" lengthAdjust="spacingAndGlyphs" stroke="#222" stroke-width="0.3">CD8&#946;</text>
<rect x="312.0" y="390.0" width="46.8" height="46.3" fill="none" stroke="#dedede" stroke-width="0.6"/>
<path d="M312.0 427.0h1.2M321.4 436.3v-1.2M312.0 417.8h1.2M330.7 436.3v-1.2M312.0 408.5h1.2M340.1 436.3v-1.2M312.0 399.3h1.2M349.4 436.3v-1.2" stroke="#bbb" stroke-width="0.5" fill="none"/>
<path d="M309.6 438.5V391.7" stroke="#222" stroke-width="1.1" fill="none"/>
<path d="M308.3 392.4L309.6 389.2L310.9 392.4Z" fill="#111"/>
<path d="M309.1 438.1H355.6" stroke="#222" stroke-width="1.1" fill="none"/>
<path d="M354.9 436.8L358.1 438.1L354.9 439.4Z" fill="#111"/>
<path fill="#2f3c9c" fill-rule="evenodd" d="M312.0 431.7 311.8 427.0 312.0 422.4 315.8 421.5 327.5 420.1 331.0 420.1 335.2 420.5 336.2 420.3 337.5 419.2 340.7 414.8 342.9 412.0 347.5 407.2 350.0 405.1 352.0 403.8 353.5 403.4 354.0 403.5 354.3 403.8 354.5 404.8 354.1 406.2 353.4 408.0 351.9 410.5 348.9 414.8 343.3 421.2 342.5 422.5 342.6 423.0 342.9 423.2 344.2 423.8 345.8 424.1 349.0 424.1 350.8 424.7 351.4 425.5 351.6 426.2 351.3 427.0 350.5 427.7 349.0 428.4 344.8 429.9 338.0 430.9 332.0 432.3 328.8 432.8 324.2 433.0 318.0 432.9 314.5 432.4Z"/>
<path fill="#3a56bd" fill-rule="evenodd" d="M312.0 430.6 311.8 427.0 312.0 423.5 313.8 422.8 315.8 422.4 327.8 420.9 330.8 420.8 335.0 421.4 336.2 421.2 337.5 420.2 341.8 414.0 346.5 408.8 348.8 406.9 350.8 405.5 352.2 405.0 353.0 405.3 353.1 406.2 352.7 407.8 351.9 409.5 350.4 412.0 347.4 416.0 342.0 421.8 341.3 423.0 341.3 423.5 341.8 424.0 344.2 425.0 345.2 425.0 348.0 424.5 349.8 424.8 350.4 425.2 350.8 426.0 350.5 426.8 350.0 427.2 348.8 427.7 346.2 428.1 343.0 429.1 337.8 430.0 331.5 431.6 328.0 432.1 323.5 432.2 317.5 432.0 314.2 431.4Z"/>
<path fill="#4a86d6" fill-rule="evenodd" d="M312.0 428.4 312.0 425.6 313.5 424.5 315.8 423.7 329.2 421.7 331.8 421.8 335.5 422.7 337.0 422.4 338.0 421.5 339.9 418.0 341.7 415.2 345.0 411.3 347.2 409.1 349.0 407.8 350.5 407.1 351.0 407.1 351.2 407.4 351.2 408.5 350.7 410.0 348.0 414.2 344.8 418.0 340.0 422.2 339.4 423.0 339.3 423.8 339.5 424.6 341.2 426.2 341.5 426.8 341.3 427.2 341.0 427.5 332.2 430.4 329.5 430.9 326.5 431.2 321.0 431.0 316.5 430.6 313.8 429.7 312.8 429.2ZM349.4 426.0 349.2 426.5 348.5 426.8 347.5 426.6 347.0 426.2 347.2 425.8 348.0 425.4 349.0 425.5Z"/>
<path fill="#6cc0ea" fill-rule="evenodd" d="M340.2 420.2 340.1 419.5 340.8 417.8 342.0 415.8 343.7 413.5 345.8 411.3 347.5 409.7 349.0 408.9 349.8 408.9 349.8 409.8 349.2 411.2 348.0 413.2 346.3 415.5 344.2 417.7 342.5 419.3 341.0 420.2ZM337.8 426.0 337.6 426.8 336.9 427.5 334.0 429.0 330.8 429.9 327.0 430.4 321.5 430.2 316.8 429.6 315.2 429.1 314.3 428.5 313.6 427.8 313.4 427.0 313.7 426.2 314.2 425.6 316.2 424.7 329.8 422.2 332.2 422.5 336.8 424.2 337.4 424.8Z"/>
<path fill="#93c842" fill-rule="evenodd" d="M341.3 418.8 341.3 418.0 341.9 416.8 344.2 413.4 347.0 410.8 348.0 410.2 348.7 410.2 348.7 411.0 348.1 412.2 345.8 415.6 343.0 418.2 342.0 418.8ZM336.2 426.0 335.9 426.8 335.5 427.2 333.2 428.7 330.8 429.4 327.5 429.8 323.5 429.7 318.0 429.0 316.0 428.2 315.4 427.8 315.2 427.0 315.3 426.5 315.8 426.0 317.5 425.3 328.0 422.9 329.8 422.6 331.8 422.8 333.5 423.5 335.7 425.0Z"/>
<path fill="#f0e01e" fill-rule="evenodd" d="M332.9 425.8 332.7 426.5 332.2 427.1 331.2 427.6 330.2 427.8 329.0 427.9 327.5 427.6 326.4 427.0 326.2 426.5 326.5 425.8 327.6 424.8 328.8 424.1 329.8 423.9 330.8 423.9 331.8 424.2 332.6 425.0Z"/>
<path fill="#f4a81c" fill-rule="evenodd" d="M332.4 425.8 332.2 426.3 331.8 426.9 330.2 427.4 329.2 427.4 328.2 427.2 327.6 426.8 327.4 426.2 327.4 425.8 328.0 425.0 328.8 424.5 329.8 424.2 330.8 424.2 331.5 424.5 332.1 425.0Z"/>
<path fill="#e2201b" fill-rule="evenodd" d="M332.0 425.8 331.8 426.2 331.3 426.8 330.0 427.1 328.5 426.8 328.0 426.0 328.2 425.5 328.6 425.0 330.0 424.5 331.3 424.8 331.8 425.2Z"/>
<path d="M337.3 419.7L351.9 403.7L355.6 405.8L340.8 423.8Z" stroke="#777" stroke-width="0.6" fill="none"/>
<text x="330.8" y="405.8" font-size="5.30" text-anchor="start" fill="#3a3a3a" textLength="13.4" lengthAdjust="spacingAndGlyphs">13.02</text>
<text transform="translate(305.0 413.4) rotate(-90)" x="0" y="0" font-size="8.40" text-anchor="middle" fill="#222" textLength="18.5" lengthAdjust="spacingAndGlyphs" stroke="#222" stroke-width="0.3">TCR&#945;&#946;</text>
<text x="334.0" y="448.2" font-size="8.40" text-anchor="middle" fill="#222" textLength="9.5" lengthAdjust="spacingAndGlyphs" stroke="#222" stroke-width="0.3">CD3</text>
<rect x="403.7" y="171.2" width="8.6" height="43.8" fill="#a9022c" stroke="#8c0022" stroke-width="0.4"/>
<rect x="403.2" y="194.8" width="9.6" height="1.0" fill="#fff"/>
<rect x="416.9" y="207.7" width="8.0" height="7.3" fill="#54206e" stroke="#3a0c52" stroke-width="0.4"/>
<rect x="429.8" y="194.1" width="8.4" height="20.9" fill="#a9022c" stroke="#8c0022" stroke-width="0.4"/>
<rect x="429.3" y="194.8" width="9.4" height="1.0" fill="#fff"/>
<rect x="442.9" y="214.0" width="7.9" height="1.0" fill="#54206e" stroke="#3a0c52" stroke-width="0.4"/>
<rect x="455.6" y="173.3" width="8.6" height="41.7" fill="#a9022c" stroke="#8c0022" stroke-width="0.4"/>
<rect x="455.1" y="194.8" width="9.6" height="1.0" fill="#fff"/>
<rect x="469.2" y="212.4" width="8.1" height="2.6" fill="#54206e" stroke="#3a0c52" stroke-width="0.4"/>
<rect x="481.8" y="191.8" width="8.7" height="23.2" fill="#a9022c" stroke="#8c0022" stroke-width="0.4"/>
<rect x="481.3" y="194.8" width="9.7" height="1.0" fill="#fff"/>
<path d="M399.3 162.2V215.5" stroke="#111" stroke-width="1.1"/>
<path d="M398.8 215.0H508" stroke="#111" stroke-width="1.0"/>
<path d="M396.4 163.6H399.3M396.4 170.3H399.3M396.4 176.8H399.3M396.4 182.7H399.3M396.4 188.7H399.3M396.4 195.3H399.3M396.4 205.6H399.3M396.4 215.0H399.3" stroke="#111" stroke-width="0.9"/>
<text x="395.3" y="165.5" font-size="5.20" text-anchor="end" fill="#444" stroke="#333" stroke-width="0.12">5x10<tspan font-size="3.4" dy="-2.1">3</tspan></text>
<text x="395.3" y="172.2" font-size="5.20" text-anchor="end" fill="#444" stroke="#333" stroke-width="0.12">4x10<tspan font-size="3.4" dy="-2.1">3</tspan></text>
<text x="395.3" y="178.7" font-size="5.20" text-anchor="end" fill="#444" stroke="#333" stroke-width="0.12">3x10<tspan font-size="3.4" dy="-2.1">3</tspan></text>
<text x="395.3" y="184.6" font-size="5.20" text-anchor="end" fill="#444" stroke="#333" stroke-width="0.12">2x10<tspan font-size="3.4" dy="-2.1">3</tspan></text>
<text x="395.3" y="190.6" font-size="5.20" text-anchor="end" fill="#444" stroke="#333" stroke-width="0.12">1x10<tspan font-size="3.4" dy="-2.1">3</tspan></text>
<text x="395.3" y="197.2" font-size="5.20" text-anchor="end" fill="#444" stroke="#333" stroke-width="0.12">1x10<tspan font-size="3.4" dy="-2.1">3</tspan></text>
<text x="395.3" y="207.5" font-size="5.20" text-anchor="end" fill="#444" stroke="#333" stroke-width="0.12">5x10<tspan font-size="3.4" dy="-2.1">2</tspan></text>
<text x="395.3" y="216.9" font-size="5.20" text-anchor="end" fill="#444" stroke="#333" stroke-width="0.12">0</text>
<path d="M397.2 195.3L401.4 195.3" stroke="#111" stroke-width="1.6"/>
<path d="M407.9 215.5v2.2M420.9 215.5v2.2M434.0 215.5v2.2M447.0 215.5v2.2M460.0 215.5v2.2M473.0 215.5v2.2M486.0 215.5v2.2M499.0 215.5v2.2" stroke="#555" stroke-width="0.6"/>
<rect x="401.9" y="220.9" width="23.0" height="1.2" fill="#4a4a4a"/>
<rect x="427.9" y="220.9" width="23.0" height="1.2" fill="#4a4a4a"/>
<rect x="454.3" y="220.9" width="23.2" height="1.2" fill="#4a4a4a"/>
<rect x="480.6" y="220.9" width="23.3" height="1.2" fill="#4a4a4a"/>
<text x="413.3" y="232.5" font-size="5.50" text-anchor="middle" fill="#333" stroke="#333" stroke-width="0.12">CD14<tspan font-size="3.4" dy="-2.4">-</tspan></text>
<text x="440.0" y="232.5" font-size="5.50" text-anchor="middle" fill="#333" stroke="#333" stroke-width="0.12">CD34<tspan font-size="3.4" dy="-2.4">+</tspan></text>
<text x="466.6" y="232.5" font-size="5.50" text-anchor="middle" fill="#333" stroke="#333" stroke-width="0.12">CD5<tspan font-size="3.4" dy="-2.4">+</tspan></text>
<text x="493.6" y="232.5" font-size="5.50" text-anchor="middle" fill="#333" stroke="#333" stroke-width="0.12">TCR&#945;&#946;<tspan font-size="3.4" dy="-2.4">+</tspan></text>
<text x="413.3" y="239.0" font-size="5.50" text-anchor="middle" fill="#333" stroke="#333" stroke-width="0.12">CD56<tspan font-size="3.4" dy="-2.4">-</tspan></text>
<text x="466.6" y="239.0" font-size="5.50" text-anchor="middle" fill="#333" stroke="#333" stroke-width="0.12">CD7<tspan font-size="3.4" dy="-2.4">+</tspan></text>
<text x="493.0" y="239.0" font-size="5.50" text-anchor="middle" fill="#333" stroke="#333" stroke-width="0.12">CD3<tspan font-size="3.4" dy="-2.4">+</tspan></text>
<rect x="495.0" y="165.8" width="4.0" height="5.4" fill="#a9022c"/>
<rect x="495.0" y="174.4" width="4.0" height="5.4" fill="#54206e"/>
<text transform="translate(374.6 188.7) rotate(-90)" x="0" y="0" font-size="6.30" text-anchor="middle" fill="#222" textLength="47.5" lengthAdjust="spacingAndGlyphs" font-weight="bold" stroke="#222" stroke-width="0.1">Absolute counts/ATO</text>
<text x="501.8" y="170.5" font-size="5.60" text-anchor="start" fill="#333" stroke="#333" stroke-width="0.12">ND1</text>
<text x="501.8" y="179.1" font-size="5.60" text-anchor="start" fill="#333" stroke="#333" stroke-width="0.12">P1</text>
<rect x="403.4" y="279.9" width="8.6" height="45.1" fill="#a9022c" stroke="#8c0022" stroke-width="0.4"/>
<rect x="402.9" y="298.2" width="9.6" height="1.0" fill="#fff"/>
<rect x="416.9" y="303.6" width="8.1" height="21.4" fill="#6aaee3" stroke="#5898d0" stroke-width="0.4"/>
<rect x="429.9" y="322.2" width="8.1" height="2.8" fill="#a9022c" stroke="#8c0022" stroke-width="0.4"/>
<rect x="442.9" y="319.9" width="8.1" height="5.1" fill="#6aaee3" stroke="#5898d0" stroke-width="0.4"/>
<rect x="455.6" y="281.9" width="8.6" height="43.1" fill="#a9022c" stroke="#8c0022" stroke-width="0.4"/>
<rect x="455.1" y="298.2" width="9.6" height="1.0" fill="#fff"/>
<rect x="481.8" y="294.5" width="8.7" height="30.5" fill="#a9022c" stroke="#8c0022" stroke-width="0.4"/>
<rect x="481.3" y="298.2" width="9.7" height="1.0" fill="#fff"/>
<path d="M399.3 274.1V325.5" stroke="#111" stroke-width="1.1"/>
<path d="M398.8 325.0H508" stroke="#111" stroke-width="1.0"/>
<path d="M396.4 276.7H399.3M396.4 283.6H399.3M396.4 290.8H399.3M396.4 298.7H399.3M396.4 311.5H399.3M396.4 324.9H399.3" stroke="#111" stroke-width="0.9"/>
<text x="395.3" y="278.6" font-size="5.20" text-anchor="end" fill="#444" stroke="#333" stroke-width="0.12">6x10<tspan font-size="3.4" dy="-2.1">5</tspan></text>
<text x="395.3" y="285.5" font-size="5.20" text-anchor="end" fill="#444" stroke="#333" stroke-width="0.12">4x10<tspan font-size="3.4" dy="-2.1">5</tspan></text>
<text x="395.3" y="292.7" font-size="5.20" text-anchor="end" fill="#444" stroke="#333" stroke-width="0.12">2x10<tspan font-size="3.4" dy="-2.1">5</tspan></text>
<text x="395.3" y="300.6" font-size="5.20" text-anchor="end" fill="#444" stroke="#333" stroke-width="0.12">6x10<tspan font-size="3.4" dy="-2.1">3</tspan></text>
<text x="395.3" y="313.4" font-size="5.20" text-anchor="end" fill="#444" stroke="#333" stroke-width="0.12">3x10<tspan font-size="3.4" dy="-2.1">3</tspan></text>
<text x="395.3" y="326.8" font-size="5.20" text-anchor="end" fill="#444" stroke="#333" stroke-width="0.12">0</text>
<path d="M397.2 298.7L401.4 298.7" stroke="#111" stroke-width="1.6"/>
<path d="M407.9 325.5v2.2M420.9 325.5v2.2M434.0 325.5v2.2M447.0 325.5v2.2M460.0 325.5v2.2M473.0 325.5v2.2M486.0 325.5v2.2M499.0 325.5v2.2" stroke="#555" stroke-width="0.6"/>
<rect x="401.9" y="330.9" width="23.0" height="1.2" fill="#4a4a4a"/>
<rect x="427.9" y="330.9" width="23.0" height="1.2" fill="#4a4a4a"/>
<rect x="454.3" y="330.9" width="23.2" height="1.2" fill="#4a4a4a"/>
<rect x="480.6" y="330.9" width="23.3" height="1.2" fill="#4a4a4a"/>
<text x="413.3" y="342.7" font-size="5.50" text-anchor="middle" fill="#333" stroke="#333" stroke-width="0.12">CD14<tspan font-size="3.4" dy="-2.4">-</tspan></text>
<text x="440.0" y="342.7" font-size="5.50" text-anchor="middle" fill="#333" stroke="#333" stroke-width="0.12">CD34<tspan font-size="3.4" dy="-2.4">+</tspan></text>
<text x="466.6" y="342.7" font-size="5.50" text-anchor="middle" fill="#333" stroke="#333" stroke-width="0.12">CD5<tspan font-size="3.4" dy="-2.4">+</tspan></text>
<text x="493.6" y="342.7" font-size="5.50" text-anchor="middle" fill="#333" stroke="#333" stroke-width="0.12">TCR&#945;&#946;<tspan font-size="3.4" dy="-2.4">+</tspan></text>
<text x="413.3" y="349.2" font-size="5.50" text-anchor="middle" fill="#333" stroke="#333" stroke-width="0.12">CD56<tspan font-size="3.4" dy="-2.4">-</tspan></text>
<text x="466.6" y="349.2" font-size="5.50" text-anchor="middle" fill="#333" stroke="#333" stroke-width="0.12">CD7<tspan font-size="3.4" dy="-2.4">+</tspan></text>
<text x="493.0" y="349.2" font-size="5.50" text-anchor="middle" fill="#333" stroke="#333" stroke-width="0.12">CD3<tspan font-size="3.4" dy="-2.4">+</tspan></text>
<rect x="495.0" y="275.8" width="4.0" height="5.4" fill="#a9022c"/>
<rect x="495.0" y="284.4" width="4.0" height="5.4" fill="#6aaee3"/>
<text transform="translate(374.6 299.6) rotate(-90)" x="0" y="0" font-size="6.30" text-anchor="middle" fill="#222" textLength="47.5" lengthAdjust="spacingAndGlyphs" font-weight="bold" stroke="#222" stroke-width="0.1">Absolute counts/ATO</text>
<text x="501.8" y="280.6" font-size="5.60" text-anchor="start" fill="#333" stroke="#333" stroke-width="0.12">ND2</text>
<text x="501.8" y="289.2" font-size="5.60" text-anchor="start" fill="#333" stroke="#333" stroke-width="0.12">P2</text>
<rect x="403.7" y="390.1" width="8.4" height="46.2" fill="#a9022c" stroke="#8c0022" stroke-width="0.4"/>
<rect x="403.2" y="407.9" width="9.4" height="1.0" fill="#fff"/>
<rect x="416.9" y="417.8" width="8.3" height="18.5" fill="#2a4a8e" stroke="#1c3672" stroke-width="0.4"/>
<rect x="430.0" y="412.3" width="8.4" height="24.0" fill="#a9022c" stroke="#8c0022" stroke-width="0.4"/>
<rect x="443.0" y="429.0" width="8.3" height="7.3" fill="#2a4a8e" stroke="#1c3672" stroke-width="0.4"/>
<rect x="455.7" y="392.2" width="8.6" height="44.1" fill="#a9022c" stroke="#8c0022" stroke-width="0.4"/>
<rect x="455.2" y="407.9" width="9.6" height="1.0" fill="#fff"/>
<rect x="468.7" y="427.3" width="8.6" height="9.0" fill="#2a4a8e" stroke="#1c3672" stroke-width="0.4"/>
<rect x="481.9" y="402.7" width="8.5" height="33.6" fill="#a9022c" stroke="#8c0022" stroke-width="0.4"/>
<rect x="481.4" y="407.9" width="9.5" height="1.0" fill="#fff"/>
<rect x="494.9" y="434.2" width="8.4" height="2.1" fill="#2a4a8e" stroke="#1c3672" stroke-width="0.4"/>
<path d="M399.3 385.4V436.8" stroke="#111" stroke-width="1.1"/>
<path d="M398.8 436.3H508" stroke="#111" stroke-width="1.0"/>
<path d="M396.4 388.7H399.3M396.4 395.6H399.3M396.4 402.4H399.3M396.4 408.4H399.3M396.4 415.8H399.3M396.4 422.2H399.3M396.4 429.2H399.3M396.4 436.3H399.3" stroke="#111" stroke-width="0.9"/>
<text x="395.3" y="390.6" font-size="5.20" text-anchor="end" fill="#444" stroke="#333" stroke-width="0.12">6x10<tspan font-size="3.4" dy="-2.1">5</tspan></text>
<text x="395.3" y="397.5" font-size="5.20" text-anchor="end" fill="#444" stroke="#333" stroke-width="0.12">4x10<tspan font-size="3.4" dy="-2.1">5</tspan></text>
<text x="395.3" y="404.3" font-size="5.20" text-anchor="end" fill="#444" stroke="#333" stroke-width="0.12">2x10<tspan font-size="3.4" dy="-2.1">5</tspan></text>
<text x="395.3" y="410.3" font-size="5.20" text-anchor="end" fill="#444" stroke="#333" stroke-width="0.12">4x10<tspan font-size="3.4" dy="-2.1">4</tspan></text>
<text x="395.3" y="417.7" font-size="5.20" text-anchor="end" fill="#444" stroke="#333" stroke-width="0.12">3x10<tspan font-size="3.4" dy="-2.1">4</tspan></text>
<text x="395.3" y="424.1" font-size="5.20" text-anchor="end" fill="#444" stroke="#333" stroke-width="0.12">2x10<tspan font-size="3.4" dy="-2.1">4</tspan></text>
<text x="395.3" y="431.1" font-size="5.20" text-anchor="end" fill="#444" stroke="#333" stroke-width="0.12">1x10<tspan font-size="3.4" dy="-2.1">4</tspan></text>
<text x="395.3" y="438.2" font-size="5.20" text-anchor="end" fill="#444" stroke="#333" stroke-width="0.12">0</text>
<path d="M397.2 408.4L401.4 408.4" stroke="#111" stroke-width="1.6"/>
<path d="M407.9 436.8v2.2M420.9 436.8v2.2M434.0 436.8v2.2M447.0 436.8v2.2M460.0 436.8v2.2M473.0 436.8v2.2M486.0 436.8v2.2M499.0 436.8v2.2" stroke="#555" stroke-width="0.6"/>
<rect x="401.9" y="442.2" width="23.0" height="1.2" fill="#4a4a4a"/>
<rect x="427.9" y="442.2" width="23.0" height="1.2" fill="#4a4a4a"/>
<rect x="454.3" y="442.2" width="23.2" height="1.2" fill="#4a4a4a"/>
<rect x="480.6" y="442.2" width="23.3" height="1.2" fill="#4a4a4a"/>
<text x="413.3" y="453.8" font-size="5.50" text-anchor="middle" fill="#333" stroke="#333" stroke-width="0.12">CD14<tspan font-size="3.4" dy="-2.4">-</tspan></text>
<text x="440.0" y="453.8" font-size="5.50" text-anchor="middle" fill="#333" stroke="#333" stroke-width="0.12">CD34<tspan font-size="3.4" dy="-2.4">+</tspan></text>
<text x="466.6" y="453.8" font-size="5.50" text-anchor="middle" fill="#333" stroke="#333" stroke-width="0.12">CD5<tspan font-size="3.4" dy="-2.4">+</tspan></text>
<text x="493.6" y="453.8" font-size="5.50" text-anchor="middle" fill="#333" stroke="#333" stroke-width="0.12">TCR&#945;&#946;<tspan font-size="3.4" dy="-2.4">+</tspan></text>
<text x="413.3" y="460.3" font-size="5.50" text-anchor="middle" fill="#333" stroke="#333" stroke-width="0.12">CD56<tspan font-size="3.4" dy="-2.4">-</tspan></text>
<text x="466.6" y="460.3" font-size="5.50" text-anchor="middle" fill="#333" stroke="#333" stroke-width="0.12">CD7<tspan font-size="3.4" dy="-2.4">+</tspan></text>
<text x="493.0" y="460.3" font-size="5.50" text-anchor="middle" fill="#333" stroke="#333" stroke-width="0.12">CD3<tspan font-size="3.4" dy="-2.4">+</tspan></text>
<rect x="495.0" y="387.4" width="4.0" height="5.4" fill="#a9022c"/>
<rect x="495.0" y="396.0" width="4.0" height="5.4" fill="#2a4a8e"/>
<text transform="translate(374.6 411.0) rotate(-90)" x="0" y="0" font-size="6.30" text-anchor="middle" fill="#222" textLength="47.5" lengthAdjust="spacingAndGlyphs" font-weight="bold" stroke="#222" stroke-width="0.1">Absolute counts/ATO</text>
<text x="501.8" y="392.2" font-size="5.60" text-anchor="start" fill="#333" stroke="#333" stroke-width="0.12">ND3</text>
<text x="501.8" y="400.8" font-size="5.60" text-anchor="start" fill="#333" stroke="#333" stroke-width="0.12">P3</text>
</svg>
</body></html>
